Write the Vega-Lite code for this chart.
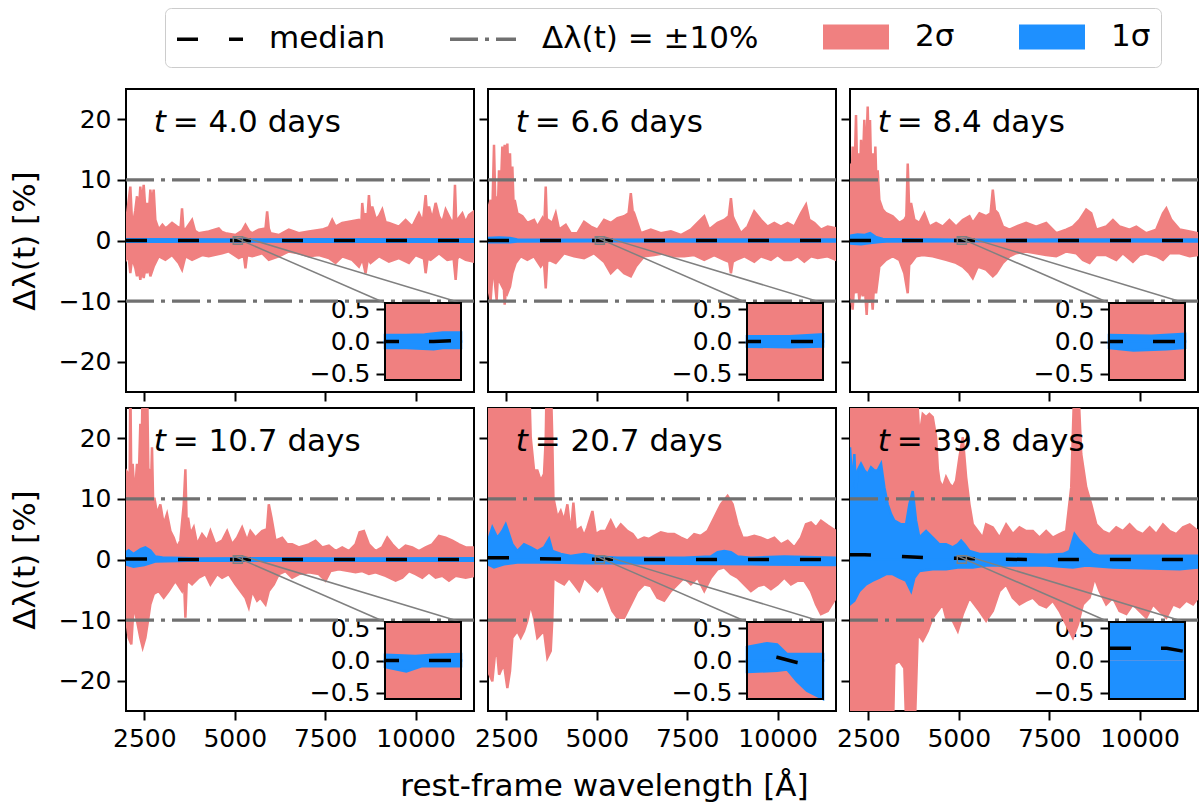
{
  "$schema": "https://vega.github.io/schema/vega-lite/v6.json",
  "padding": {"left": 8, "top": 7, "right": 2, "bottom": 8},
  "title": {"text": "rest-frame wavelength [Å]", "orient": "bottom", "anchor": "middle", "fontSize": 31, "fontWeight": "normal", "color": "black", "offset": 20},
  "datasets": {
    "bands": [
      {"p":1,"b":"u2","w":1993,"v":2.9},{"p":1,"b":"u2","w":2113,"v":8.9},{"p":1,"b":"u2","w":2160,"v":3.0},{"p":1,"b":"u2","w":2205,"v":3.4},{"p":1,"b":"u2","w":2250,"v":5.0},{"p":1,"b":"u2","w":2297,"v":7.3},{"p":1,"b":"u2","w":2340,"v":4.0},{"p":1,"b":"u2","w":2389,"v":8.9},{"p":1,"b":"u2","w":2430,"v":6.0},{"p":1,"b":"u2","w":2482,"v":9.2},{"p":1,"b":"u2","w":2530,"v":5.0},{"p":1,"b":"u2","w":2574,"v":6.2},{"p":1,"b":"u2","w":2620,"v":4.0},{"p":1,"b":"u2","w":2666,"v":8.4},{"p":1,"b":"u2","w":2710,"v":6.0},{"p":1,"b":"u2","w":2758,"v":8.4},{"p":1,"b":"u2","w":2804,"v":3.4},{"p":1,"b":"u2","w":2897,"v":1.8},{"p":1,"b":"u2","w":3000,"v":2.6},{"p":1,"b":"u2","w":3081,"v":2.0},{"p":1,"b":"u2","w":3170,"v":2.4},{"p":1,"b":"u2","w":3266,"v":2.9},{"p":1,"b":"u2","w":3404,"v":2.3},{"p":1,"b":"u2","w":3500,"v":2.0},{"p":1,"b":"u2","w":3542,"v":5.3},{"p":1,"b":"u2","w":3580,"v":2.0},{"p":1,"b":"u2","w":3635,"v":1.8},{"p":1,"b":"u2","w":3819,"v":3.4},{"p":1,"b":"u2","w":3900,"v":1.6},{"p":1,"b":"u2","w":4004,"v":1.2},{"p":1,"b":"u2","w":4280,"v":1.5},{"p":1,"b":"u2","w":4557,"v":2.0},{"p":1,"b":"u2","w":4650,"v":1.4},{"p":1,"b":"u2","w":4742,"v":1.2},{"p":1,"b":"u2","w":5019,"v":0.9},{"p":1,"b":"u2","w":5200,"v":1.6},{"p":1,"b":"u2","w":5295,"v":2.6},{"p":1,"b":"u2","w":5400,"v":1.5},{"p":1,"b":"u2","w":5480,"v":1.2},{"p":1,"b":"u2","w":5664,"v":1.8},{"p":1,"b":"u2","w":5850,"v":2.0},{"p":1,"b":"u2","w":5895,"v":4.8},{"p":1,"b":"u2","w":5940,"v":2.0},{"p":1,"b":"u2","w":5987,"v":1.2},{"p":1,"b":"u2","w":6218,"v":0.9},{"p":1,"b":"u2","w":6494,"v":1.8},{"p":1,"b":"u2","w":6771,"v":1.2},{"p":1,"b":"u2","w":7048,"v":1.5},{"p":1,"b":"u2","w":7417,"v":1.8},{"p":1,"b":"u2","w":7600,"v":2.2},{"p":1,"b":"u2","w":7694,"v":3.4},{"p":1,"b":"u2","w":7786,"v":2.3},{"p":1,"b":"u2","w":7971,"v":2.9},{"p":1,"b":"u2","w":8155,"v":3.1},{"p":1,"b":"u2","w":8432,"v":3.4},{"p":1,"b":"u2","w":8500,"v":2.8},{"p":1,"b":"u2","w":8524,"v":6.2},{"p":1,"b":"u2","w":8570,"v":3.5},{"p":1,"b":"u2","w":8616,"v":4.5},{"p":1,"b":"u2","w":8660,"v":3.0},{"p":1,"b":"u2","w":8709,"v":7.5},{"p":1,"b":"u2","w":8755,"v":4.0},{"p":1,"b":"u2","w":8801,"v":5.6},{"p":1,"b":"u2","w":8900,"v":3.5},{"p":1,"b":"u2","w":8985,"v":4.0},{"p":1,"b":"u2","w":9077,"v":5.1},{"p":1,"b":"u2","w":9170,"v":3.0},{"p":1,"b":"u2","w":9262,"v":2.9},{"p":1,"b":"u2","w":9538,"v":2.3},{"p":1,"b":"u2","w":9723,"v":3.4},{"p":1,"b":"u2","w":9908,"v":2.3},{"p":1,"b":"u2","w":10092,"v":4.5},{"p":1,"b":"u2","w":10200,"v":3.0},{"p":1,"b":"u2","w":10277,"v":7.5},{"p":1,"b":"u2","w":10320,"v":4.0},{"p":1,"b":"u2","w":10369,"v":5.6},{"p":1,"b":"u2","w":10460,"v":3.5},{"p":1,"b":"u2","w":10553,"v":6.2},{"p":1,"b":"u2","w":10646,"v":4.0},{"p":1,"b":"u2","w":10740,"v":3.0},{"p":1,"b":"u2","w":10830,"v":5.1},{"p":1,"b":"u2","w":10969,"v":3.4},{"p":1,"b":"u2","w":11050,"v":3.0},{"p":1,"b":"u2","w":11088,"v":9.2},{"p":1,"b":"u2","w":11120,"v":3.5},{"p":1,"b":"u2","w":11153,"v":3.4},{"p":1,"b":"u2","w":11291,"v":4.5},{"p":1,"b":"u2","w":11384,"v":3.0},{"p":1,"b":"u2","w":11476,"v":4.2},{"p":1,"b":"u2","w":11614,"v":4.8},
      {"p":1,"b":"l2","w":1993,"v":-3.2},{"p":1,"b":"l2","w":2060,"v":-2.5},{"p":1,"b":"l2","w":2113,"v":-5.4},{"p":1,"b":"l2","w":2160,"v":-3.0},{"p":1,"b":"l2","w":2205,"v":-3.7},{"p":1,"b":"l2","w":2250,"v":-4.5},{"p":1,"b":"l2","w":2297,"v":-5.9},{"p":1,"b":"l2","w":2340,"v":-4.5},{"p":1,"b":"l2","w":2389,"v":-6.5},{"p":1,"b":"l2","w":2430,"v":-4.8},{"p":1,"b":"l2","w":2482,"v":-6.2},{"p":1,"b":"l2","w":2530,"v":-4.5},{"p":1,"b":"l2","w":2574,"v":-5.4},{"p":1,"b":"l2","w":2620,"v":-4.0},{"p":1,"b":"l2","w":2666,"v":-5.9},{"p":1,"b":"l2","w":2758,"v":-4.3},{"p":1,"b":"l2","w":2897,"v":-2.6},{"p":1,"b":"l2","w":3081,"v":-3.2},{"p":1,"b":"l2","w":3266,"v":-2.4},{"p":1,"b":"l2","w":3450,"v":-3.7},{"p":1,"b":"l2","w":3542,"v":-4.8},{"p":1,"b":"l2","w":3635,"v":-2.6},{"p":1,"b":"l2","w":3819,"v":-3.2},{"p":1,"b":"l2","w":4096,"v":-2.4},{"p":1,"b":"l2","w":4280,"v":-2.6},{"p":1,"b":"l2","w":4649,"v":-2.1},{"p":1,"b":"l2","w":4834,"v":-1.8},{"p":1,"b":"l2","w":5111,"v":-2.9},{"p":1,"b":"l2","w":5250,"v":-2.5},{"p":1,"b":"l2","w":5295,"v":-4.6},{"p":1,"b":"l2","w":5340,"v":-2.4},{"p":1,"b":"l2","w":5480,"v":-2.6},{"p":1,"b":"l2","w":5756,"v":-2.1},{"p":1,"b":"l2","w":5941,"v":-3.2},{"p":1,"b":"l2","w":6218,"v":-2.6},{"p":1,"b":"l2","w":6494,"v":-1.8},{"p":1,"b":"l2","w":6771,"v":-2.1},{"p":1,"b":"l2","w":7048,"v":-2.6},{"p":1,"b":"l2","w":7325,"v":-2.4},{"p":1,"b":"l2","w":7601,"v":-2.9},{"p":1,"b":"l2","w":7786,"v":-3.7},{"p":1,"b":"l2","w":7971,"v":-2.6},{"p":1,"b":"l2","w":8247,"v":-3.2},{"p":1,"b":"l2","w":8432,"v":-4.3},{"p":1,"b":"l2","w":8530,"v":-3.0},{"p":1,"b":"l2","w":8616,"v":-5.4},{"p":1,"b":"l2","w":8680,"v":-3.0},{"p":1,"b":"l2","w":8755,"v":-3.7},{"p":1,"b":"l2","w":8985,"v":-2.6},{"p":1,"b":"l2","w":9262,"v":-3.5},{"p":1,"b":"l2","w":9538,"v":-2.9},{"p":1,"b":"l2","w":9815,"v":-3.7},{"p":1,"b":"l2","w":10000,"v":-2.4},{"p":1,"b":"l2","w":10230,"v":-3.0},{"p":1,"b":"l2","w":10277,"v":-5.4},{"p":1,"b":"l2","w":10330,"v":-3.0},{"p":1,"b":"l2","w":10415,"v":-3.2},{"p":1,"b":"l2","w":10646,"v":-2.1},{"p":1,"b":"l2","w":10876,"v":-3.2},{"p":1,"b":"l2","w":11050,"v":-3.0},{"p":1,"b":"l2","w":11107,"v":-6.5},{"p":1,"b":"l2","w":11150,"v":-3.0},{"p":1,"b":"l2","w":11199,"v":-2.6},{"p":1,"b":"l2","w":11384,"v":-3.2},{"p":1,"b":"l2","w":11614,"v":-3.5},
      {"p":1,"b":"u1","w":1993,"v":0.2},{"p":1,"b":"u1","w":3000,"v":0.2},{"p":1,"b":"u1","w":5000,"v":0.15},{"p":1,"b":"u1","w":7000,"v":0.2},{"p":1,"b":"u1","w":9000,"v":0.22},{"p":1,"b":"u1","w":11614,"v":0.22},
      {"p":1,"b":"l1","w":1993,"v":-0.2},{"p":1,"b":"l1","w":3000,"v":-0.2},{"p":1,"b":"l1","w":5000,"v":-0.15},{"p":1,"b":"l1","w":7000,"v":-0.2},{"p":1,"b":"l1","w":9000,"v":-0.22},{"p":1,"b":"l1","w":11614,"v":-0.22},

      {"p":2,"b":"u2","w":1993,"v":5.1},{"p":2,"b":"u2","w":2066,"v":6.7},{"p":2,"b":"u2","w":2110,"v":4.0},{"p":2,"b":"u2","w":2159,"v":15.8},{"p":2,"b":"u2","w":2200,"v":5.0},{"p":2,"b":"u2","w":2232,"v":7.3},{"p":2,"b":"u2","w":2265,"v":5.0},{"p":2,"b":"u2","w":2297,"v":11.6},{"p":2,"b":"u2","w":2340,"v":7.0},{"p":2,"b":"u2","w":2389,"v":15.5},{"p":2,"b":"u2","w":2420,"v":9.0},{"p":2,"b":"u2","w":2454,"v":15.8},{"p":2,"b":"u2","w":2490,"v":10.0},{"p":2,"b":"u2","w":2528,"v":16.0},{"p":2,"b":"u2","w":2565,"v":9.0},{"p":2,"b":"u2","w":2601,"v":14.4},{"p":2,"b":"u2","w":2630,"v":8.0},{"p":2,"b":"u2","w":2666,"v":12.2},{"p":2,"b":"u2","w":2700,"v":6.0},{"p":2,"b":"u2","w":2731,"v":6.7},{"p":2,"b":"u2","w":2804,"v":4.5},{"p":2,"b":"u2","w":2943,"v":4.0},{"p":2,"b":"u2","w":3081,"v":2.9},{"p":2,"b":"u2","w":3266,"v":3.4},{"p":2,"b":"u2","w":3358,"v":2.3},{"p":2,"b":"u2","w":3496,"v":3.7},{"p":2,"b":"u2","w":3550,"v":2.5},{"p":2,"b":"u2","w":3589,"v":8.9},{"p":2,"b":"u2","w":3620,"v":3.0},{"p":2,"b":"u2","w":3653,"v":3.4},{"p":2,"b":"u2","w":3773,"v":2.9},{"p":2,"b":"u2","w":3865,"v":4.5},{"p":2,"b":"u2","w":3958,"v":1.8},{"p":2,"b":"u2","w":4142,"v":2.6},{"p":2,"b":"u2","w":4280,"v":1.2},{"p":2,"b":"u2","w":4465,"v":1.2},{"p":2,"b":"u2","w":4649,"v":3.1},{"p":2,"b":"u2","w":4834,"v":2.3},{"p":2,"b":"u2","w":5019,"v":1.8},{"p":2,"b":"u2","w":5203,"v":3.4},{"p":2,"b":"u2","w":5387,"v":2.9},{"p":2,"b":"u2","w":5572,"v":3.7},{"p":2,"b":"u2","w":5756,"v":4.0},{"p":2,"b":"u2","w":5880,"v":4.5},{"p":2,"b":"u2","w":5941,"v":7.8},{"p":2,"b":"u2","w":5990,"v":5.0},{"p":2,"b":"u2","w":6033,"v":4.5},{"p":2,"b":"u2","w":6218,"v":1.2},{"p":2,"b":"u2","w":6494,"v":1.8},{"p":2,"b":"u2","w":6771,"v":1.2},{"p":2,"b":"u2","w":7048,"v":1.5},{"p":2,"b":"u2","w":7325,"v":0.9},{"p":2,"b":"u2","w":7601,"v":1.8},{"p":2,"b":"u2","w":7786,"v":2.9},{"p":2,"b":"u2","w":7971,"v":4.0},{"p":2,"b":"u2","w":8109,"v":1.8},{"p":2,"b":"u2","w":8339,"v":2.9},{"p":2,"b":"u2","w":8524,"v":3.4},{"p":2,"b":"u2","w":8650,"v":4.0},{"p":2,"b":"u2","w":8709,"v":7.0},{"p":2,"b":"u2","w":8760,"v":4.0},{"p":2,"b":"u2","w":8801,"v":3.4},{"p":2,"b":"u2","w":8985,"v":1.2},{"p":2,"b":"u2","w":9170,"v":2.3},{"p":2,"b":"u2","w":9354,"v":4.8},{"p":2,"b":"u2","w":9538,"v":3.4},{"p":2,"b":"u2","w":9723,"v":2.3},{"p":2,"b":"u2","w":9908,"v":2.9},{"p":2,"b":"u2","w":10092,"v":2.3},{"p":2,"b":"u2","w":10277,"v":2.9},{"p":2,"b":"u2","w":10461,"v":2.3},{"p":2,"b":"u2","w":10646,"v":4.5},{"p":2,"b":"u2","w":10784,"v":5.9},{"p":2,"b":"u2","w":10876,"v":3.4},{"p":2,"b":"u2","w":11015,"v":2.9},{"p":2,"b":"u2","w":11199,"v":1.8},{"p":2,"b":"u2","w":11384,"v":2.3},{"p":2,"b":"u2","w":11614,"v":2.0},
      {"p":2,"b":"l2","w":1993,"v":-7.6},{"p":2,"b":"l2","w":2066,"v":-9.8},{"p":2,"b":"l2","w":2110,"v":-6.0},{"p":2,"b":"l2","w":2159,"v":-5.4},{"p":2,"b":"l2","w":2200,"v":-8.0},{"p":2,"b":"l2","w":2232,"v":-9.8},{"p":2,"b":"l2","w":2265,"v":-6.0},{"p":2,"b":"l2","w":2297,"v":-6.5},{"p":2,"b":"l2","w":2389,"v":-7.6},{"p":2,"b":"l2","w":2420,"v":-6.5},{"p":2,"b":"l2","w":2454,"v":-10.6},{"p":2,"b":"l2","w":2490,"v":-8.0},{"p":2,"b":"l2","w":2528,"v":-8.7},{"p":2,"b":"l2","w":2601,"v":-7.6},{"p":2,"b":"l2","w":2666,"v":-5.4},{"p":2,"b":"l2","w":2758,"v":-3.7},{"p":2,"b":"l2","w":2897,"v":-2.6},{"p":2,"b":"l2","w":3081,"v":-3.2},{"p":2,"b":"l2","w":3266,"v":-2.6},{"p":2,"b":"l2","w":3450,"v":-4.3},{"p":2,"b":"l2","w":3540,"v":-3.5},{"p":2,"b":"l2","w":3589,"v":-7.9},{"p":2,"b":"l2","w":3630,"v":-3.5},{"p":2,"b":"l2","w":3681,"v":-3.2},{"p":2,"b":"l2","w":3865,"v":-3.7},{"p":2,"b":"l2","w":4096,"v":-2.1},{"p":2,"b":"l2","w":4373,"v":-2.6},{"p":2,"b":"l2","w":4649,"v":-2.9},{"p":2,"b":"l2","w":4926,"v":-2.1},{"p":2,"b":"l2","w":5203,"v":-3.5},{"p":2,"b":"l2","w":5387,"v":-5.4},{"p":2,"b":"l2","w":5572,"v":-4.3},{"p":2,"b":"l2","w":5756,"v":-5.4},{"p":2,"b":"l2","w":5941,"v":-5.9},{"p":2,"b":"l2","w":6079,"v":-4.3},{"p":2,"b":"l2","w":6310,"v":-2.6},{"p":2,"b":"l2","w":6587,"v":-2.4},{"p":2,"b":"l2","w":6863,"v":-2.1},{"p":2,"b":"l2","w":7140,"v":-2.6},{"p":2,"b":"l2","w":7417,"v":-2.6},{"p":2,"b":"l2","w":7694,"v":-2.4},{"p":2,"b":"l2","w":7971,"v":-3.2},{"p":2,"b":"l2","w":8247,"v":-2.4},{"p":2,"b":"l2","w":8524,"v":-3.2},{"p":2,"b":"l2","w":8660,"v":-3.5},{"p":2,"b":"l2","w":8709,"v":-5.4},{"p":2,"b":"l2","w":8760,"v":-3.5},{"p":2,"b":"l2","w":8847,"v":-3.2},{"p":2,"b":"l2","w":9077,"v":-2.6},{"p":2,"b":"l2","w":9354,"v":-3.5},{"p":2,"b":"l2","w":9538,"v":-2.6},{"p":2,"b":"l2","w":9815,"v":-3.2},{"p":2,"b":"l2","w":10000,"v":-2.4},{"p":2,"b":"l2","w":10184,"v":-3.2},{"p":2,"b":"l2","w":10369,"v":-3.2},{"p":2,"b":"l2","w":10553,"v":-2.6},{"p":2,"b":"l2","w":10738,"v":-3.5},{"p":2,"b":"l2","w":10922,"v":-2.6},{"p":2,"b":"l2","w":11107,"v":-2.9},{"p":2,"b":"l2","w":11384,"v":-2.6},{"p":2,"b":"l2","w":11614,"v":-3.2},
      {"p":2,"b":"u1","w":1993,"v":0.4},{"p":2,"b":"u1","w":2300,"v":0.5},{"p":2,"b":"u1","w":2600,"v":0.4},{"p":2,"b":"u1","w":2800,"v":0.15},{"p":2,"b":"u1","w":5000,"v":0.12},{"p":2,"b":"u1","w":8000,"v":0.15},{"p":2,"b":"u1","w":11614,"v":0.15},
      {"p":2,"b":"l1","w":1993,"v":-0.3},{"p":2,"b":"l1","w":2600,"v":-0.3},{"p":2,"b":"l1","w":2800,"v":-0.15},{"p":2,"b":"l1","w":5000,"v":-0.12},{"p":2,"b":"l1","w":8000,"v":-0.15},{"p":2,"b":"l1","w":11614,"v":-0.15},

      {"p":3,"b":"u2","w":1993,"v":12.7},{"p":3,"b":"u2","w":2030,"v":8.0},{"p":3,"b":"u2","w":2066,"v":15.5},{"p":3,"b":"u2","w":2110,"v":9.0},{"p":3,"b":"u2","w":2159,"v":20.7},{"p":3,"b":"u2","w":2195,"v":10.0},{"p":3,"b":"u2","w":2232,"v":14.4},{"p":3,"b":"u2","w":2265,"v":9.0},{"p":3,"b":"u2","w":2297,"v":16.6},{"p":3,"b":"u2","w":2340,"v":11.0},{"p":3,"b":"u2","w":2389,"v":19.9},{"p":3,"b":"u2","w":2430,"v":12.0},{"p":3,"b":"u2","w":2482,"v":22.1},{"p":3,"b":"u2","w":2515,"v":14.0},{"p":3,"b":"u2","w":2546,"v":19.9},{"p":3,"b":"u2","w":2580,"v":11.0},{"p":3,"b":"u2","w":2620,"v":14.4},{"p":3,"b":"u2","w":2655,"v":9.0},{"p":3,"b":"u2","w":2694,"v":15.5},{"p":3,"b":"u2","w":2730,"v":8.0},{"p":3,"b":"u2","w":2758,"v":11.6},{"p":3,"b":"u2","w":2804,"v":6.7},{"p":3,"b":"u2","w":2897,"v":5.1},{"p":3,"b":"u2","w":2989,"v":4.5},{"p":3,"b":"u2","w":3173,"v":4.0},{"p":3,"b":"u2","w":3358,"v":2.9},{"p":3,"b":"u2","w":3496,"v":3.4},{"p":3,"b":"u2","w":3550,"v":4.0},{"p":3,"b":"u2","w":3589,"v":12.7},{"p":3,"b":"u2","w":3630,"v":5.0},{"p":3,"b":"u2","w":3681,"v":6.2},{"p":3,"b":"u2","w":3773,"v":3.4},{"p":3,"b":"u2","w":3911,"v":2.9},{"p":3,"b":"u2","w":4050,"v":4.5},{"p":3,"b":"u2","w":4188,"v":2.3},{"p":3,"b":"u2","w":4373,"v":2.9},{"p":3,"b":"u2","w":4557,"v":2.3},{"p":3,"b":"u2","w":4742,"v":3.4},{"p":3,"b":"u2","w":4926,"v":2.3},{"p":3,"b":"u2","w":5111,"v":3.4},{"p":3,"b":"u2","w":5295,"v":4.0},{"p":3,"b":"u2","w":5387,"v":2.9},{"p":3,"b":"u2","w":5572,"v":4.5},{"p":3,"b":"u2","w":5756,"v":4.0},{"p":3,"b":"u2","w":5880,"v":4.5},{"p":3,"b":"u2","w":5941,"v":8.4},{"p":3,"b":"u2","w":6000,"v":5.0},{"p":3,"b":"u2","w":6079,"v":4.5},{"p":3,"b":"u2","w":6218,"v":2.3},{"p":3,"b":"u2","w":6402,"v":1.8},{"p":3,"b":"u2","w":6587,"v":2.3},{"p":3,"b":"u2","w":6863,"v":2.9},{"p":3,"b":"u2","w":7140,"v":2.3},{"p":3,"b":"u2","w":7417,"v":2.9},{"p":3,"b":"u2","w":7694,"v":1.2},{"p":3,"b":"u2","w":7971,"v":1.8},{"p":3,"b":"u2","w":8155,"v":2.3},{"p":3,"b":"u2","w":8339,"v":3.4},{"p":3,"b":"u2","w":8524,"v":5.1},{"p":3,"b":"u2","w":8662,"v":4.5},{"p":3,"b":"u2","w":8801,"v":1.8},{"p":3,"b":"u2","w":9077,"v":2.3},{"p":3,"b":"u2","w":9262,"v":3.4},{"p":3,"b":"u2","w":9446,"v":2.3},{"p":3,"b":"u2","w":9723,"v":1.8},{"p":3,"b":"u2","w":9908,"v":2.3},{"p":3,"b":"u2","w":10184,"v":1.2},{"p":3,"b":"u2","w":10461,"v":1.8},{"p":3,"b":"u2","w":10646,"v":4.5},{"p":3,"b":"u2","w":10738,"v":5.3},{"p":3,"b":"u2","w":10876,"v":3.4},{"p":3,"b":"u2","w":11107,"v":1.8},{"p":3,"b":"u2","w":11384,"v":1.5},{"p":3,"b":"u2","w":11614,"v":1.2},
      {"p":3,"b":"l2","w":1993,"v":-7.6},{"p":3,"b":"l2","w":2066,"v":-11.4},{"p":3,"b":"l2","w":2110,"v":-7.0},{"p":3,"b":"l2","w":2159,"v":-8.7},{"p":3,"b":"l2","w":2200,"v":-6.5},{"p":3,"b":"l2","w":2251,"v":-9.8},{"p":3,"b":"l2","w":2300,"v":-7.0},{"p":3,"b":"l2","w":2343,"v":-9.2},{"p":3,"b":"l2","w":2400,"v":-7.5},{"p":3,"b":"l2","w":2454,"v":-12.3},{"p":3,"b":"l2","w":2490,"v":-8.0},{"p":3,"b":"l2","w":2528,"v":-10.3},{"p":3,"b":"l2","w":2575,"v":-8.0},{"p":3,"b":"l2","w":2620,"v":-11.4},{"p":3,"b":"l2","w":2660,"v":-7.0},{"p":3,"b":"l2","w":2712,"v":-8.7},{"p":3,"b":"l2","w":2804,"v":-4.3},{"p":3,"b":"l2","w":2989,"v":-3.2},{"p":3,"b":"l2","w":3173,"v":-2.6},{"p":3,"b":"l2","w":3358,"v":-3.2},{"p":3,"b":"l2","w":3496,"v":-5.4},{"p":3,"b":"l2","w":3589,"v":-8.7},{"p":3,"b":"l2","w":3630,"v":-4.0},{"p":3,"b":"l2","w":3681,"v":-3.7},{"p":3,"b":"l2","w":3819,"v":-2.6},{"p":3,"b":"l2","w":4004,"v":-2.4},{"p":3,"b":"l2","w":4280,"v":-2.6},{"p":3,"b":"l2","w":4649,"v":-3.2},{"p":3,"b":"l2","w":4926,"v":-3.7},{"p":3,"b":"l2","w":5111,"v":-4.3},{"p":3,"b":"l2","w":5295,"v":-5.4},{"p":3,"b":"l2","w":5387,"v":-6.2},{"p":3,"b":"l2","w":5526,"v":-4.3},{"p":3,"b":"l2","w":5756,"v":-4.8},{"p":3,"b":"l2","w":5941,"v":-5.9},{"p":3,"b":"l2","w":6033,"v":-5.4},{"p":3,"b":"l2","w":6218,"v":-3.7},{"p":3,"b":"l2","w":6402,"v":-2.6},{"p":3,"b":"l2","w":6587,"v":-2.1},{"p":3,"b":"l2","w":6863,"v":-1.8},{"p":3,"b":"l2","w":7140,"v":-2.1},{"p":3,"b":"l2","w":7417,"v":-2.4},{"p":3,"b":"l2","w":7694,"v":-2.6},{"p":3,"b":"l2","w":7971,"v":-1.8},{"p":3,"b":"l2","w":8247,"v":-2.1},{"p":3,"b":"l2","w":8432,"v":-3.2},{"p":3,"b":"l2","w":8616,"v":-3.7},{"p":3,"b":"l2","w":8801,"v":-2.4},{"p":3,"b":"l2","w":9077,"v":-2.4},{"p":3,"b":"l2","w":9354,"v":-3.2},{"p":3,"b":"l2","w":9538,"v":-2.1},{"p":3,"b":"l2","w":9815,"v":-3.5},{"p":3,"b":"l2","w":10000,"v":-2.4},{"p":3,"b":"l2","w":10184,"v":-2.1},{"p":3,"b":"l2","w":10461,"v":-2.6},{"p":3,"b":"l2","w":10646,"v":-3.2},{"p":3,"b":"l2","w":10830,"v":-2.1},{"p":3,"b":"l2","w":11107,"v":-2.1},{"p":3,"b":"l2","w":11384,"v":-2.6},{"p":3,"b":"l2","w":11614,"v":-2.4},
      {"p":3,"b":"u1","w":1993,"v":0.8},{"p":3,"b":"u1","w":2200,"v":1.0},{"p":3,"b":"u1","w":2400,"v":0.9},{"p":3,"b":"u1","w":2550,"v":1.2},{"p":3,"b":"u1","w":2700,"v":0.6},{"p":3,"b":"u1","w":2900,"v":0.25},{"p":3,"b":"u1","w":5000,"v":0.12},{"p":3,"b":"u1","w":8000,"v":0.15},{"p":3,"b":"u1","w":11614,"v":0.15},
      {"p":3,"b":"l1","w":1993,"v":-0.5},{"p":3,"b":"l1","w":2300,"v":-0.6},{"p":3,"b":"l1","w":2550,"v":-0.4},{"p":3,"b":"l1","w":2800,"v":-0.25},{"p":3,"b":"l1","w":3000,"v":-0.15},{"p":3,"b":"l1","w":5000,"v":-0.12},{"p":3,"b":"l1","w":11614,"v":-0.15},

      {"p":4,"b":"u2","w":1993,"v":14.7},{"p":4,"b":"u2","w":2066,"v":14.1},{"p":4,"b":"u2","w":2090,"v":10.0},{"p":4,"b":"u2","w":2113,"v":30},{"p":4,"b":"u2","w":2140,"v":12.0},{"p":4,"b":"u2","w":2177,"v":15.8},{"p":4,"b":"u2","w":2232,"v":10.2},{"p":4,"b":"u2","w":2297,"v":15.8},{"p":4,"b":"u2","w":2340,"v":12.0},{"p":4,"b":"u2","w":2389,"v":22.4},{"p":4,"b":"u2","w":2420,"v":15.0},{"p":4,"b":"u2","w":2454,"v":30},{"p":4,"b":"u2","w":2480,"v":18.0},{"p":4,"b":"u2","w":2509,"v":30},{"p":4,"b":"u2","w":2540,"v":20.0},{"p":4,"b":"u2","w":2574,"v":30},{"p":4,"b":"u2","w":2610,"v":15.0},{"p":4,"b":"u2","w":2638,"v":14.7},{"p":4,"b":"u2","w":2675,"v":10.0},{"p":4,"b":"u2","w":2712,"v":18.5},{"p":4,"b":"u2","w":2745,"v":9.0},{"p":4,"b":"u2","w":2777,"v":10.2},{"p":4,"b":"u2","w":2851,"v":7.5},{"p":4,"b":"u2","w":2943,"v":9.1},{"p":4,"b":"u2","w":3035,"v":5.8},{"p":4,"b":"u2","w":3127,"v":7.5},{"p":4,"b":"u2","w":3220,"v":4.7},{"p":4,"b":"u2","w":3312,"v":3.6},{"p":4,"b":"u2","w":3404,"v":2.0},{"p":4,"b":"u2","w":3496,"v":3.1},{"p":4,"b":"u2","w":3589,"v":9.1},{"p":4,"b":"u2","w":3635,"v":14.9},{"p":4,"b":"u2","w":3670,"v":6.0},{"p":4,"b":"u2","w":3708,"v":6.9},{"p":4,"b":"u2","w":3773,"v":4.2},{"p":4,"b":"u2","w":3865,"v":5.3},{"p":4,"b":"u2","w":3958,"v":2.5},{"p":4,"b":"u2","w":4096,"v":4.2},{"p":4,"b":"u2","w":4234,"v":3.1},{"p":4,"b":"u2","w":4327,"v":4.7},{"p":4,"b":"u2","w":4465,"v":2.5},{"p":4,"b":"u2","w":4649,"v":3.1},{"p":4,"b":"u2","w":4788,"v":4.7},{"p":4,"b":"u2","w":4926,"v":2.5},{"p":4,"b":"u2","w":5065,"v":3.6},{"p":4,"b":"u2","w":5203,"v":5.3},{"p":4,"b":"u2","w":5341,"v":3.1},{"p":4,"b":"u2","w":5433,"v":4.7},{"p":4,"b":"u2","w":5572,"v":3.6},{"p":4,"b":"u2","w":5756,"v":4.7},{"p":4,"b":"u2","w":5890,"v":5.0},{"p":4,"b":"u2","w":5941,"v":9.1},{"p":4,"b":"u2","w":6015,"v":6.9},{"p":4,"b":"u2","w":6125,"v":3.1},{"p":4,"b":"u2","w":6310,"v":3.6},{"p":4,"b":"u2","w":6448,"v":2.5},{"p":4,"b":"u2","w":6587,"v":2.5},{"p":4,"b":"u2","w":6771,"v":2.0},{"p":4,"b":"u2","w":7048,"v":2.5},{"p":4,"b":"u2","w":7232,"v":3.1},{"p":4,"b":"u2","w":7417,"v":2.0},{"p":4,"b":"u2","w":7601,"v":2.3},{"p":4,"b":"u2","w":7786,"v":1.4},{"p":4,"b":"u2","w":7971,"v":2.0},{"p":4,"b":"u2","w":8155,"v":1.4},{"p":4,"b":"u2","w":8339,"v":2.5},{"p":4,"b":"u2","w":8450,"v":4.5},{"p":4,"b":"u2","w":8570,"v":4.7},{"p":4,"b":"u2","w":8709,"v":2.5},{"p":4,"b":"u2","w":8893,"v":1.4},{"p":4,"b":"u2","w":9077,"v":2.0},{"p":4,"b":"u2","w":9216,"v":3.6},{"p":4,"b":"u2","w":9354,"v":2.5},{"p":4,"b":"u2","w":9538,"v":1.4},{"p":4,"b":"u2","w":9723,"v":2.3},{"p":4,"b":"u2","w":9908,"v":2.0},{"p":4,"b":"u2","w":10092,"v":1.4},{"p":4,"b":"u2","w":10277,"v":2.0},{"p":4,"b":"u2","w":10461,"v":2.5},{"p":4,"b":"u2","w":10646,"v":3.9},{"p":4,"b":"u2","w":10830,"v":3.6},{"p":4,"b":"u2","w":11015,"v":3.1},{"p":4,"b":"u2","w":11199,"v":2.5},{"p":4,"b":"u2","w":11384,"v":2.0},{"p":4,"b":"u2","w":11614,"v":2.0},
      {"p":4,"b":"l2","w":1993,"v":-9.6},{"p":4,"b":"l2","w":2066,"v":-12.9},{"p":4,"b":"l2","w":2140,"v":-14.0},{"p":4,"b":"l2","w":2205,"v":-7.4},{"p":4,"b":"l2","w":2297,"v":-10.1},{"p":4,"b":"l2","w":2389,"v":-12.9},{"p":4,"b":"l2","w":2454,"v":-14.5},{"p":4,"b":"l2","w":2528,"v":-12.9},{"p":4,"b":"l2","w":2601,"v":-10.1},{"p":4,"b":"l2","w":2666,"v":-7.4},{"p":4,"b":"l2","w":2758,"v":-5.7},{"p":4,"b":"l2","w":2897,"v":-5.2},{"p":4,"b":"l2","w":3035,"v":-6.3},{"p":4,"b":"l2","w":3173,"v":-5.2},{"p":4,"b":"l2","w":3358,"v":-3.5},{"p":4,"b":"l2","w":3542,"v":-5.2},{"p":4,"b":"l2","w":3600,"v":-4.0},{"p":4,"b":"l2","w":3635,"v":-9.6},{"p":4,"b":"l2","w":3670,"v":-4.0},{"p":4,"b":"l2","w":3708,"v":-3.5},{"p":4,"b":"l2","w":3819,"v":-4.1},{"p":4,"b":"l2","w":4004,"v":-3.0},{"p":4,"b":"l2","w":4188,"v":-2.4},{"p":4,"b":"l2","w":4327,"v":-4.1},{"p":4,"b":"l2","w":4511,"v":-2.4},{"p":4,"b":"l2","w":4649,"v":-3.0},{"p":4,"b":"l2","w":4834,"v":-2.4},{"p":4,"b":"l2","w":5019,"v":-4.1},{"p":4,"b":"l2","w":5157,"v":-5.2},{"p":4,"b":"l2","w":5295,"v":-6.3},{"p":4,"b":"l2","w":5387,"v":-7.9},{"p":4,"b":"l2","w":5480,"v":-5.2},{"p":4,"b":"l2","w":5618,"v":-6.8},{"p":4,"b":"l2","w":5710,"v":-6.3},{"p":4,"b":"l2","w":5849,"v":-7.4},{"p":4,"b":"l2","w":5941,"v":-5.2},{"p":4,"b":"l2","w":6079,"v":-4.1},{"p":4,"b":"l2","w":6218,"v":-2.4},{"p":4,"b":"l2","w":6402,"v":-1.9},{"p":4,"b":"l2","w":6587,"v":-3.0},{"p":4,"b":"l2","w":6771,"v":-2.4},{"p":4,"b":"l2","w":7048,"v":-2.1},{"p":4,"b":"l2","w":7325,"v":-2.4},{"p":4,"b":"l2","w":7509,"v":-3.5},{"p":4,"b":"l2","w":7648,"v":-1.9},{"p":4,"b":"l2","w":7878,"v":-1.6},{"p":4,"b":"l2","w":8155,"v":-1.9},{"p":4,"b":"l2","w":8339,"v":-2.1},{"p":4,"b":"l2","w":8524,"v":-1.9},{"p":4,"b":"l2","w":8709,"v":-2.4},{"p":4,"b":"l2","w":8893,"v":-2.1},{"p":4,"b":"l2","w":9170,"v":-2.7},{"p":4,"b":"l2","w":9446,"v":-3.5},{"p":4,"b":"l2","w":9631,"v":-3.0},{"p":4,"b":"l2","w":9815,"v":-1.9},{"p":4,"b":"l2","w":10000,"v":-2.4},{"p":4,"b":"l2","w":10184,"v":-3.0},{"p":4,"b":"l2","w":10369,"v":-2.1},{"p":4,"b":"l2","w":10553,"v":-3.0},{"p":4,"b":"l2","w":10738,"v":-2.7},{"p":4,"b":"l2","w":10922,"v":-3.5},{"p":4,"b":"l2","w":11107,"v":-2.7},{"p":4,"b":"l2","w":11384,"v":-3.0},{"p":4,"b":"l2","w":11614,"v":-2.7},
      {"p":4,"b":"u1","w":1993,"v":1.2},{"p":4,"b":"u1","w":2066,"v":1.5},{"p":4,"b":"u1","w":2200,"v":0.9},{"p":4,"b":"u1","w":2400,"v":1.7},{"p":4,"b":"u1","w":2528,"v":2.0},{"p":4,"b":"u1","w":2666,"v":1.5},{"p":4,"b":"u1","w":2800,"v":0.5},{"p":4,"b":"u1","w":3000,"v":0.35},{"p":4,"b":"u1","w":4000,"v":0.15},{"p":4,"b":"u1","w":6000,"v":0.2},{"p":4,"b":"u1","w":8000,"v":0.15},{"p":4,"b":"u1","w":11614,"v":0.2},
      {"p":4,"b":"l1","w":1993,"v":-0.8},{"p":4,"b":"l1","w":2200,"v":-1.2},{"p":4,"b":"l1","w":2500,"v":-0.9},{"p":4,"b":"l1","w":2800,"v":-0.35},{"p":4,"b":"l1","w":4000,"v":-0.15},{"p":4,"b":"l1","w":6000,"v":-0.2},{"p":4,"b":"l1","w":11614,"v":-0.2},

      {"p":5,"b":"u2","w":1993,"v":30},{"p":5,"b":"u2","w":3127,"v":30},{"p":5,"b":"u2","w":3173,"v":20.2},{"p":5,"b":"u2","w":3266,"v":14.7},{"p":5,"b":"u2","w":3358,"v":14.7},{"p":5,"b":"u2","w":3450,"v":13.0},{"p":5,"b":"u2","w":3542,"v":14.1},{"p":5,"b":"u2","w":3590,"v":20.0},{"p":5,"b":"u2","w":3616,"v":30},{"p":5,"b":"u2","w":3727,"v":30},{"p":5,"b":"u2","w":3770,"v":20.0},{"p":5,"b":"u2","w":3801,"v":10.2},{"p":5,"b":"u2","w":3911,"v":6.9},{"p":5,"b":"u2","w":4004,"v":8.0},{"p":5,"b":"u2","w":4096,"v":6.4},{"p":5,"b":"u2","w":4188,"v":9.1},{"p":5,"b":"u2","w":4280,"v":4.2},{"p":5,"b":"u2","w":4354,"v":9.4},{"p":5,"b":"u2","w":4419,"v":4.7},{"p":5,"b":"u2","w":4557,"v":5.3},{"p":5,"b":"u2","w":4649,"v":3.9},{"p":5,"b":"u2","w":4742,"v":5.3},{"p":5,"b":"u2","w":4880,"v":8.0},{"p":5,"b":"u2","w":4972,"v":4.2},{"p":5,"b":"u2","w":5111,"v":4.7},{"p":5,"b":"u2","w":5249,"v":4.7},{"p":5,"b":"u2","w":5387,"v":6.4},{"p":5,"b":"u2","w":5526,"v":4.7},{"p":5,"b":"u2","w":5664,"v":5.8},{"p":5,"b":"u2","w":5849,"v":4.7},{"p":5,"b":"u2","w":5987,"v":4.2},{"p":5,"b":"u2","w":6125,"v":3.1},{"p":5,"b":"u2","w":6310,"v":3.6},{"p":5,"b":"u2","w":6448,"v":3.4},{"p":5,"b":"u2","w":6587,"v":3.9},{"p":5,"b":"u2","w":6771,"v":4.5},{"p":5,"b":"u2","w":6956,"v":4.2},{"p":5,"b":"u2","w":7140,"v":4.2},{"p":5,"b":"u2","w":7325,"v":3.6},{"p":5,"b":"u2","w":7509,"v":3.1},{"p":5,"b":"u2","w":7694,"v":4.2},{"p":5,"b":"u2","w":7878,"v":3.9},{"p":5,"b":"u2","w":8063,"v":4.7},{"p":5,"b":"u2","w":8247,"v":6.9},{"p":5,"b":"u2","w":8432,"v":9.1},{"p":5,"b":"u2","w":8616,"v":10.5},{"p":5,"b":"u2","w":8755,"v":9.1},{"p":5,"b":"u2","w":8893,"v":5.8},{"p":5,"b":"u2","w":9031,"v":3.6},{"p":5,"b":"u2","w":9170,"v":3.6},{"p":5,"b":"u2","w":9354,"v":3.9},{"p":5,"b":"u2","w":9538,"v":3.6},{"p":5,"b":"u2","w":9723,"v":3.1},{"p":5,"b":"u2","w":9908,"v":3.6},{"p":5,"b":"u2","w":10092,"v":2.5},{"p":5,"b":"u2","w":10277,"v":3.1},{"p":5,"b":"u2","w":10461,"v":2.0},{"p":5,"b":"u2","w":10646,"v":3.6},{"p":5,"b":"u2","w":10784,"v":5.8},{"p":5,"b":"u2","w":10922,"v":6.1},{"p":5,"b":"u2","w":11061,"v":5.3},{"p":5,"b":"u2","w":11199,"v":6.4},{"p":5,"b":"u2","w":11384,"v":5.6},{"p":5,"b":"u2","w":11614,"v":4.7},
      {"p":5,"b":"l2","w":1993,"v":-18.4},{"p":5,"b":"l2","w":2113,"v":-20.1},{"p":5,"b":"l2","w":2180,"v":-16.0},{"p":5,"b":"l2","w":2251,"v":-15.6},{"p":5,"b":"l2","w":2300,"v":-19.0},{"p":5,"b":"l2","w":2343,"v":-18.4},{"p":5,"b":"l2","w":2435,"v":-17.3},{"p":5,"b":"l2","w":2528,"v":-21.2},{"p":5,"b":"l2","w":2601,"v":-18.4},{"p":5,"b":"l2","w":2666,"v":-12.9},{"p":5,"b":"l2","w":2804,"v":-11.8},{"p":5,"b":"l2","w":2897,"v":-12.9},{"p":5,"b":"l2","w":2989,"v":-11.8},{"p":5,"b":"l2","w":3081,"v":-10.1},{"p":5,"b":"l2","w":3173,"v":-7.4},{"p":5,"b":"l2","w":3266,"v":-9.6},{"p":5,"b":"l2","w":3358,"v":-12.9},{"p":5,"b":"l2","w":3450,"v":-12.3},{"p":5,"b":"l2","w":3542,"v":-11.8},{"p":5,"b":"l2","w":3635,"v":-16.2},{"p":5,"b":"l2","w":3727,"v":-15.1},{"p":5,"b":"l2","w":3770,"v":-10.0},{"p":5,"b":"l2","w":3801,"v":-3.0},{"p":5,"b":"l2","w":3911,"v":-3.5},{"p":5,"b":"l2","w":4096,"v":-4.1},{"p":5,"b":"l2","w":4234,"v":-3.0},{"p":5,"b":"l2","w":4373,"v":-4.1},{"p":5,"b":"l2","w":4511,"v":-5.2},{"p":5,"b":"l2","w":4649,"v":-3.0},{"p":5,"b":"l2","w":4834,"v":-4.1},{"p":5,"b":"l2","w":5019,"v":-5.2},{"p":5,"b":"l2","w":5157,"v":-4.1},{"p":5,"b":"l2","w":5295,"v":-6.3},{"p":5,"b":"l2","w":5433,"v":-8.5},{"p":5,"b":"l2","w":5572,"v":-9.6},{"p":5,"b":"l2","w":5756,"v":-9.6},{"p":5,"b":"l2","w":5941,"v":-7.4},{"p":5,"b":"l2","w":6125,"v":-5.2},{"p":5,"b":"l2","w":6310,"v":-4.1},{"p":5,"b":"l2","w":6494,"v":-4.4},{"p":5,"b":"l2","w":6679,"v":-6.3},{"p":5,"b":"l2","w":6863,"v":-6.8},{"p":5,"b":"l2","w":7048,"v":-5.2},{"p":5,"b":"l2","w":7232,"v":-4.1},{"p":5,"b":"l2","w":7417,"v":-3.0},{"p":5,"b":"l2","w":7601,"v":-4.1},{"p":5,"b":"l2","w":7786,"v":-3.0},{"p":5,"b":"l2","w":7971,"v":-5.2},{"p":5,"b":"l2","w":8155,"v":-3.0},{"p":5,"b":"l2","w":8339,"v":-1.6},{"p":5,"b":"l2","w":8524,"v":-1.3},{"p":5,"b":"l2","w":8709,"v":-2.4},{"p":5,"b":"l2","w":8893,"v":-3.0},{"p":5,"b":"l2","w":9077,"v":-4.1},{"p":5,"b":"l2","w":9262,"v":-5.2},{"p":5,"b":"l2","w":9446,"v":-4.4},{"p":5,"b":"l2","w":9631,"v":-4.1},{"p":5,"b":"l2","w":9815,"v":-4.9},{"p":5,"b":"l2","w":10000,"v":-4.1},{"p":5,"b":"l2","w":10184,"v":-3.0},{"p":5,"b":"l2","w":10369,"v":-4.1},{"p":5,"b":"l2","w":10553,"v":-3.5},{"p":5,"b":"l2","w":10738,"v":-3.5},{"p":5,"b":"l2","w":10922,"v":-5.2},{"p":5,"b":"l2","w":11061,"v":-7.4},{"p":5,"b":"l2","w":11199,"v":-9.0},{"p":5,"b":"l2","w":11384,"v":-8.5},{"p":5,"b":"l2","w":11614,"v":-6.3},
      {"p":5,"b":"u1","w":1993,"v":3.1},{"p":5,"b":"u1","w":2113,"v":5.3},{"p":5,"b":"u1","w":2251,"v":3.6},{"p":5,"b":"u1","w":2389,"v":4.7},{"p":5,"b":"u1","w":2482,"v":5.8},{"p":5,"b":"u1","w":2574,"v":4.2},{"p":5,"b":"u1","w":2666,"v":2.5},{"p":5,"b":"u1","w":2804,"v":1.4},{"p":5,"b":"u1","w":2989,"v":2.5},{"p":5,"b":"u1","w":3173,"v":2.0},{"p":5,"b":"u1","w":3358,"v":1.4},{"p":5,"b":"u1","w":3542,"v":2.0},{"p":5,"b":"u1","w":3681,"v":3.4},{"p":5,"b":"u1","w":3773,"v":1.4},{"p":5,"b":"u1","w":4004,"v":0.9},{"p":5,"b":"u1","w":4280,"v":0.6},{"p":5,"b":"u1","w":4649,"v":0.9},{"p":5,"b":"u1","w":5019,"v":0.5},{"p":5,"b":"u1","w":5572,"v":0.3},{"p":5,"b":"u1","w":6494,"v":0.3},{"p":5,"b":"u1","w":7417,"v":0.3},{"p":5,"b":"u1","w":8155,"v":0.5},{"p":5,"b":"u1","w":8339,"v":1.2},{"p":5,"b":"u1","w":8524,"v":1.4},{"p":5,"b":"u1","w":8709,"v":1.2},{"p":5,"b":"u1","w":8893,"v":0.5},{"p":5,"b":"u1","w":9262,"v":0.3},{"p":5,"b":"u1","w":10184,"v":0.5},{"p":5,"b":"u1","w":11614,"v":0.3},
      {"p":5,"b":"l1","w":1993,"v":-0.8},{"p":5,"b":"l1","w":2159,"v":-1.3},{"p":5,"b":"l1","w":2435,"v":-0.8},{"p":5,"b":"l1","w":2804,"v":-0.5},{"p":5,"b":"l1","w":3727,"v":-0.5},{"p":5,"b":"l1","w":4649,"v":-0.6},{"p":5,"b":"l1","w":5572,"v":-0.6},{"p":5,"b":"l1","w":7417,"v":-0.7},{"p":5,"b":"l1","w":9262,"v":-0.8},{"p":5,"b":"l1","w":11614,"v":-0.9},

      {"p":6,"b":"u2","w":1993,"v":30},{"p":6,"b":"u2","w":3819,"v":30},{"p":6,"b":"u2","w":3911,"v":20.2},{"p":6,"b":"u2","w":4004,"v":24.0},{"p":6,"b":"u2","w":4096,"v":23.5},{"p":6,"b":"u2","w":4188,"v":24.0},{"p":6,"b":"u2","w":4280,"v":23.5},{"p":6,"b":"u2","w":4373,"v":20.2},{"p":6,"b":"u2","w":4420,"v":15.0},{"p":6,"b":"u2","w":4465,"v":13.0},{"p":6,"b":"u2","w":4557,"v":11.9},{"p":6,"b":"u2","w":4649,"v":13.6},{"p":6,"b":"u2","w":4742,"v":12.5},{"p":6,"b":"u2","w":4834,"v":11.9},{"p":6,"b":"u2","w":4926,"v":13.0},{"p":6,"b":"u2","w":5019,"v":16.9},{"p":6,"b":"u2","w":5111,"v":20.2},{"p":6,"b":"u2","w":5203,"v":13.6},{"p":6,"b":"u2","w":5295,"v":9.1},{"p":6,"b":"u2","w":5387,"v":5.8},{"p":6,"b":"u2","w":5526,"v":4.7},{"p":6,"b":"u2","w":5664,"v":3.6},{"p":6,"b":"u2","w":5756,"v":5.8},{"p":6,"b":"u2","w":5941,"v":5.3},{"p":6,"b":"u2","w":6125,"v":3.6},{"p":6,"b":"u2","w":6310,"v":5.8},{"p":6,"b":"u2","w":6494,"v":4.2},{"p":6,"b":"u2","w":6679,"v":5.3},{"p":6,"b":"u2","w":6863,"v":4.7},{"p":6,"b":"u2","w":7048,"v":4.7},{"p":6,"b":"u2","w":7232,"v":3.6},{"p":6,"b":"u2","w":7417,"v":4.7},{"p":6,"b":"u2","w":7601,"v":3.6},{"p":6,"b":"u2","w":7786,"v":4.2},{"p":6,"b":"u2","w":7971,"v":4.7},{"p":6,"b":"u2","w":8109,"v":11.9},{"p":6,"b":"u2","w":8201,"v":30},{"p":6,"b":"u2","w":8293,"v":30},{"p":6,"b":"u2","w":8386,"v":17.4},{"p":6,"b":"u2","w":8524,"v":11.9},{"p":6,"b":"u2","w":8662,"v":9.1},{"p":6,"b":"u2","w":8801,"v":5.8},{"p":6,"b":"u2","w":8985,"v":4.7},{"p":6,"b":"u2","w":9170,"v":4.2},{"p":6,"b":"u2","w":9354,"v":5.3},{"p":6,"b":"u2","w":9538,"v":4.7},{"p":6,"b":"u2","w":9723,"v":5.8},{"p":6,"b":"u2","w":9908,"v":4.7},{"p":6,"b":"u2","w":10092,"v":4.2},{"p":6,"b":"u2","w":10277,"v":5.3},{"p":6,"b":"u2","w":10461,"v":4.2},{"p":6,"b":"u2","w":10646,"v":5.8},{"p":6,"b":"u2","w":10830,"v":4.7},{"p":6,"b":"u2","w":11015,"v":4.2},{"p":6,"b":"u2","w":11199,"v":5.3},{"p":6,"b":"u2","w":11384,"v":5.8},{"p":6,"b":"u2","w":11614,"v":4.7},
      {"p":6,"b":"l2","w":1993,"v":-30},{"p":6,"b":"l2","w":3173,"v":-30},{"p":6,"b":"l2","w":3220,"v":-17.3},{"p":6,"b":"l2","w":3358,"v":-16.7},{"p":6,"b":"l2","w":3496,"v":-17.9},{"p":6,"b":"l2","w":3560,"v":-30},{"p":6,"b":"l2","w":3773,"v":-30},{"p":6,"b":"l2","w":3865,"v":-12.3},{"p":6,"b":"l2","w":4004,"v":-13.4},{"p":6,"b":"l2","w":4142,"v":-11.8},{"p":6,"b":"l2","w":4280,"v":-9.6},{"p":6,"b":"l2","w":4419,"v":-8.5},{"p":6,"b":"l2","w":4557,"v":-7.4},{"p":6,"b":"l2","w":4649,"v":-9.6},{"p":6,"b":"l2","w":4834,"v":-10.1},{"p":6,"b":"l2","w":4972,"v":-11.8},{"p":6,"b":"l2","w":5111,"v":-9.0},{"p":6,"b":"l2","w":5295,"v":-6.3},{"p":6,"b":"l2","w":5572,"v":-8.5},{"p":6,"b":"l2","w":5756,"v":-10.1},{"p":6,"b":"l2","w":5941,"v":-8.5},{"p":6,"b":"l2","w":6125,"v":-5.2},{"p":6,"b":"l2","w":6310,"v":-4.1},{"p":6,"b":"l2","w":6494,"v":-6.3},{"p":6,"b":"l2","w":6679,"v":-7.4},{"p":6,"b":"l2","w":6863,"v":-6.8},{"p":6,"b":"l2","w":7048,"v":-6.3},{"p":6,"b":"l2","w":7232,"v":-7.4},{"p":6,"b":"l2","w":7417,"v":-7.9},{"p":6,"b":"l2","w":7601,"v":-6.8},{"p":6,"b":"l2","w":7786,"v":-8.5},{"p":6,"b":"l2","w":7971,"v":-10.7},{"p":6,"b":"l2","w":8155,"v":-12.9},{"p":6,"b":"l2","w":8293,"v":-10.7},{"p":6,"b":"l2","w":8432,"v":-7.4},{"p":6,"b":"l2","w":8616,"v":-6.3},{"p":6,"b":"l2","w":8755,"v":-3.0},{"p":6,"b":"l2","w":8893,"v":-5.2},{"p":6,"b":"l2","w":9077,"v":-7.4},{"p":6,"b":"l2","w":9262,"v":-6.3},{"p":6,"b":"l2","w":9446,"v":-8.5},{"p":6,"b":"l2","w":9631,"v":-9.0},{"p":6,"b":"l2","w":9815,"v":-7.4},{"p":6,"b":"l2","w":10000,"v":-8.5},{"p":6,"b":"l2","w":10184,"v":-9.6},{"p":6,"b":"l2","w":10369,"v":-7.4},{"p":6,"b":"l2","w":10553,"v":-8.5},{"p":6,"b":"l2","w":10738,"v":-9.6},{"p":6,"b":"l2","w":10922,"v":-7.4},{"p":6,"b":"l2","w":11107,"v":-7.9},{"p":6,"b":"l2","w":11291,"v":-6.8},{"p":6,"b":"l2","w":11476,"v":-7.4},{"p":6,"b":"l2","w":11614,"v":-6.3},
      {"p":6,"b":"u1","w":1993,"v":18.5},{"p":6,"b":"u1","w":2060,"v":12.0},{"p":6,"b":"u1","w":2113,"v":17.4},{"p":6,"b":"u1","w":2160,"v":11.0},{"p":6,"b":"u1","w":2205,"v":14.7},{"p":6,"b":"u1","w":2297,"v":15.8},{"p":6,"b":"u1","w":2389,"v":14.7},{"p":6,"b":"u1","w":2482,"v":14.1},{"p":6,"b":"u1","w":2574,"v":15.2},{"p":6,"b":"u1","w":2666,"v":14.7},{"p":6,"b":"u1","w":2758,"v":14.7},{"p":6,"b":"u1","w":2851,"v":15.8},{"p":6,"b":"u1","w":2943,"v":11.9},{"p":6,"b":"u1","w":3035,"v":9.1},{"p":6,"b":"u1","w":3127,"v":7.5},{"p":6,"b":"u1","w":3220,"v":6.4},{"p":6,"b":"u1","w":3404,"v":5.8},{"p":6,"b":"u1","w":3542,"v":5.8},{"p":6,"b":"u1","w":3635,"v":9.1},{"p":6,"b":"u1","w":3727,"v":11.3},{"p":6,"b":"u1","w":3819,"v":6.4},{"p":6,"b":"u1","w":3911,"v":3.6},{"p":6,"b":"u1","w":4004,"v":4.2},{"p":6,"b":"u1","w":4096,"v":4.7},{"p":6,"b":"u1","w":4280,"v":3.6},{"p":6,"b":"u1","w":4465,"v":2.5},{"p":6,"b":"u1","w":4649,"v":2.5},{"p":6,"b":"u1","w":4834,"v":2.0},{"p":6,"b":"u1","w":4972,"v":2.5},{"p":6,"b":"u1","w":5065,"v":3.1},{"p":6,"b":"u1","w":5157,"v":2.5},{"p":6,"b":"u1","w":5295,"v":1.4},{"p":6,"b":"u1","w":5572,"v":0.9},{"p":6,"b":"u1","w":6494,"v":0.9},{"p":6,"b":"u1","w":7417,"v":0.8},{"p":6,"b":"u1","w":7878,"v":0.9},{"p":6,"b":"u1","w":8063,"v":1.4},{"p":6,"b":"u1","w":8201,"v":4.2},{"p":6,"b":"u1","w":8339,"v":3.1},{"p":6,"b":"u1","w":8524,"v":2.0},{"p":6,"b":"u1","w":8709,"v":0.9},{"p":6,"b":"u1","w":8893,"v":0.6},{"p":6,"b":"u1","w":10184,"v":0.6},{"p":6,"b":"u1","w":11614,"v":0.6},
      {"p":6,"b":"l1","w":1993,"v":-7.4},{"p":6,"b":"l1","w":2113,"v":-6.8},{"p":6,"b":"l1","w":2251,"v":-5.2},{"p":6,"b":"l1","w":2435,"v":-4.1},{"p":6,"b":"l1","w":2620,"v":-3.5},{"p":6,"b":"l1","w":2804,"v":-3.0},{"p":6,"b":"l1","w":2989,"v":-2.4},{"p":6,"b":"l1","w":3173,"v":-2.4},{"p":6,"b":"l1","w":3358,"v":-3.0},{"p":6,"b":"l1","w":3542,"v":-3.5},{"p":6,"b":"l1","w":3681,"v":-5.2},{"p":6,"b":"l1","w":3773,"v":-3.0},{"p":6,"b":"l1","w":3911,"v":-1.9},{"p":6,"b":"l1","w":4280,"v":-1.6},{"p":6,"b":"l1","w":4649,"v":-1.6},{"p":6,"b":"l1","w":5019,"v":-1.3},{"p":6,"b":"l1","w":5387,"v":-1.3},{"p":6,"b":"l1","w":5756,"v":-1.0},{"p":6,"b":"l1","w":7417,"v":-1.0},{"p":6,"b":"l1","w":8155,"v":-1.3},{"p":6,"b":"l1","w":8524,"v":-1.0},{"p":6,"b":"l1","w":9262,"v":-1.3},{"p":6,"b":"l1","w":11107,"v":-1.6},{"p":6,"b":"l1","w":11614,"v":-1.3}
    ],
    "med": [
      {"p":1,"w":1993,"v":0},{"p":1,"w":11614,"v":0},
      {"p":2,"w":1993,"v":0},{"p":2,"w":11614,"v":0},
      {"p":3,"w":1993,"v":0},{"p":3,"w":11614,"v":0},
      {"p":4,"w":1993,"v":0.1},{"p":4,"w":2800,"v":0.05},{"p":4,"w":3500,"v":0},{"p":4,"w":11614,"v":0},
      {"p":5,"w":1993,"v":0.3},{"p":5,"w":2600,"v":0.3},{"p":5,"w":3300,"v":0.15},{"p":5,"w":3900,"v":0.1},{"p":5,"w":5000,"v":0.05},{"p":5,"w":6000,"v":0},{"p":5,"w":11614,"v":0},
      {"p":6,"w":1993,"v":0.8},{"p":6,"w":2400,"v":0.8},{"p":6,"w":2700,"v":0.7},{"p":6,"w":3300,"v":0.55},{"p":6,"w":4200,"v":0.25},{"p":6,"w":4960,"v":0.19},{"p":6,"w":5210,"v":0.15},{"p":6,"w":6000,"v":0.05},{"p":6,"w":7000,"v":0},{"p":6,"w":11614,"v":0}
    ],
    "ins": [
      {"p":1,"b":"u2","w":4960,"v":1},{"p":1,"b":"u2","w":5210,"v":1},{"p":1,"b":"l2","w":4960,"v":-1},{"p":1,"b":"l2","w":5210,"v":-1},
      {"p":1,"b":"u1","w":4960,"v":0.1},{"p":1,"b":"u1","w":5030,"v":0.1},{"p":1,"b":"u1","w":5090,"v":0.11},{"p":1,"b":"u1","w":5150,"v":0.14},{"p":1,"b":"u1","w":5210,"v":0.14},
      {"p":1,"b":"l1","w":4960,"v":-0.1},{"p":1,"b":"l1","w":5030,"v":-0.1},{"p":1,"b":"l1","w":5120,"v":-0.12},{"p":1,"b":"l1","w":5150,"v":-0.1},{"p":1,"b":"l1","w":5210,"v":-0.1},
      {"p":1,"b":"m","w":4960,"v":0},{"p":1,"b":"m","w":5120,"v":0},{"p":1,"b":"m","w":5210,"v":0.02},
      {"p":2,"b":"u2","w":4960,"v":1},{"p":2,"b":"u2","w":5210,"v":1},{"p":2,"b":"l2","w":4960,"v":-1},{"p":2,"b":"l2","w":5210,"v":-1},
      {"p":2,"b":"u1","w":4960,"v":0.08},{"p":2,"b":"u1","w":5100,"v":0.08},{"p":2,"b":"u1","w":5210,"v":0.11},
      {"p":2,"b":"l1","w":4960,"v":-0.08},{"p":2,"b":"l1","w":5100,"v":-0.09},{"p":2,"b":"l1","w":5210,"v":-0.08},
      {"p":2,"b":"m","w":4960,"v":0},{"p":2,"b":"m","w":5210,"v":0},
      {"p":3,"b":"u2","w":4960,"v":1},{"p":3,"b":"u2","w":5210,"v":1},{"p":3,"b":"l2","w":4960,"v":-1},{"p":3,"b":"l2","w":5210,"v":-1},
      {"p":3,"b":"u1","w":4960,"v":0.1},{"p":3,"b":"u1","w":5100,"v":0.09},{"p":3,"b":"u1","w":5210,"v":0.12},
      {"p":3,"b":"l1","w":4960,"v":-0.1},{"p":3,"b":"l1","w":5040,"v":-0.14},{"p":3,"b":"l1","w":5150,"v":-0.12},{"p":3,"b":"l1","w":5210,"v":-0.1},
      {"p":3,"b":"m","w":4960,"v":0},{"p":3,"b":"m","w":5210,"v":0},
      {"p":4,"b":"u2","w":4960,"v":1},{"p":4,"b":"u2","w":5210,"v":1},{"p":4,"b":"l2","w":4960,"v":-1},{"p":4,"b":"l2","w":5210,"v":-1},
      {"p":4,"b":"u1","w":4960,"v":0.09},{"p":4,"b":"u1","w":5060,"v":0.07},{"p":4,"b":"u1","w":5120,"v":0.09},{"p":4,"b":"u1","w":5210,"v":0.1},
      {"p":4,"b":"l1","w":4960,"v":-0.1},{"p":4,"b":"l1","w":5030,"v":-0.17},{"p":4,"b":"l1","w":5080,"v":-0.09},{"p":4,"b":"l1","w":5210,"v":-0.09},
      {"p":4,"b":"m","w":4960,"v":0},{"p":4,"b":"m","w":5210,"v":0},
      {"p":5,"b":"u2","w":4960,"v":1},{"p":5,"b":"u2","w":5210,"v":1},{"p":5,"b":"l2","w":4960,"v":-1},{"p":5,"b":"l2","w":5210,"v":-1},
      {"p":5,"b":"u1","w":4960,"v":0.21},{"p":5,"b":"u1","w":5026,"v":0.27},{"p":5,"b":"u1","w":5059,"v":0.25},{"p":5,"b":"u1","w":5092,"v":0.1},{"p":5,"b":"u1","w":5210,"v":0.1},
      {"p":5,"b":"l1","w":4960,"v":-0.18},{"p":5,"b":"l1","w":5059,"v":-0.16},{"p":5,"b":"l1","w":5092,"v":-0.14},{"p":5,"b":"l1","w":5124,"v":-0.32},{"p":5,"b":"l1","w":5157,"v":-0.47},{"p":5,"b":"l1","w":5210,"v":-0.6},
      {"p":5,"b":"m","w":4960,"v":0.15},{"p":5,"b":"m","w":5059,"v":0.05},{"p":5,"b":"m","w":5124,"v":-0.03},{"p":5,"b":"m","w":5210,"v":-0.1},
      {"p":6,"b":"u2","w":4960,"v":1},{"p":6,"b":"u2","w":5210,"v":1},{"p":6,"b":"l2","w":4960,"v":-1},{"p":6,"b":"l2","w":5210,"v":-1},
      {"p":6,"b":"u1","w":4960,"v":1},{"p":6,"b":"u1","w":5210,"v":1},{"p":6,"b":"l1","w":4960,"v":-1},{"p":6,"b":"l1","w":5210,"v":-1},
      {"p":6,"b":"m","w":4960,"v":0.19},{"p":6,"b":"m","w":5150,"v":0.19},{"p":6,"b":"m","w":5210,"v":0.14}
    ],
    "links": [
      {"x0": 4960, "y0": 0.6, "x1": 9154, "y1": -10.31},
      {"x0": 5210, "y0": 0.6, "x1": 11255, "y1": -10.31}
    ],
    "labs": [
      {"p":1,"s":"= 4.0 days"},{"p":2,"s":"= 6.6 days"},{"p":3,"s":"= 8.4 days"},
      {"p":4,"s":"= 10.7 days"},{"p":5,"s":"= 20.7 days"},{"p":6,"s":"= 39.8 days"}
    ]
  },
  "concat": [
    {
      "width": 348, "height": 303,
      "layer": [
        {
          "layer": [
            {"data": {"name": "bands"}, "transform": [{"filter": "datum.p == 1 && (datum.b == 'u2' || datum.b == 'l2')"}], "mark": {"type": "area", "color": "#f08080", "stroke": "#f08080", "strokeWidth": 2.5, "clip": true},
             "encoding": {"x": {"field": "w", "type": "quantitative", "scale": {"domain": [1993, 11614], "nice": false, "zero": false}, "axis": {"values": [2500, 5000, 7500, 10000], "labels": false, "format": "d", "title": null}},
                          "y": {"field": "v", "type": "quantitative", "stack": null, "scale": {"domain": [-25, 25], "nice": false, "zero": false}, "axis": {"values": [-20, -10, 0, 10, 20], "format": "d", "title": "Δλ(t)  [%]"}},
                          "y2": {"datum": 0}, "detail": {"field": "b"}}},
            {"data": {"name": "bands"}, "transform": [{"filter": "datum.p == 1 && (datum.b == 'u1' || datum.b == 'l1')"}], "mark": {"type": "area", "color": "#1e90ff", "stroke": "#1e90ff", "strokeWidth": 2.5, "clip": true},
             "encoding": {"x": {"field": "w", "type": "quantitative"}, "y": {"field": "v", "type": "quantitative", "stack": null}, "y2": {"datum": 0}, "detail": {"field": "b"}}},
            {"data": {"name": "med"}, "transform": [{"filter": "datum.p == 1"}], "mark": {"type": "line", "color": "black", "strokeWidth": 3.5, "strokeDash": [21, 31], "clip": true},
             "encoding": {"x": {"field": "w", "type": "quantitative"}, "y": {"field": "v", "type": "quantitative"}}},
            {"data": {"values": [{"lim": 10}, {"lim": -10}]}, "mark": {"type": "rule", "color": "#707070", "strokeWidth": 3.3, "strokeDash": [28, 7, 4, 7]},
             "encoding": {"x": {"datum": 1993}, "x2": {"datum": 11614}, "y": {"field": "lim", "type": "quantitative"}}},
            {"data": {"values": [{}]}, "mark": {"type": "rect", "fillOpacity": 0, "stroke": "#808080", "strokeWidth": 1.5},
             "encoding": {"x": {"datum": 4960}, "x2": {"datum": 5210}, "y": {"datum": -0.6}, "y2": {"datum": 0.6}}},
            {"data": {"name": "links"}, "mark": {"type": "rule", "color": "#808080", "strokeWidth": 1.5},
             "encoding": {"x": {"field": "x0", "type": "quantitative"}, "x2": {"field": "x1"}, "y": {"field": "y0", "type": "quantitative"}, "y2": {"field": "y1"}}},
            {"data": {"values": [{}]}, "mark": {"type": "text", "text": "t", "fontStyle": "italic", "fontSize": 31, "align": "left", "baseline": "alphabetic", "color": "black"},
             "encoding": {"x": {"datum": 2759}, "y": {"datum": 17.95}}},
            {"data": {"name": "labs"}, "transform": [{"filter": "datum.p == 1"}], "mark": {"type": "text", "fontSize": 31, "align": "left", "baseline": "alphabetic", "dx": 19, "color": "black"},
             "encoding": {"x": {"datum": 2759}, "y": {"datum": 17.95}, "text": {"field": "s"}}},
            {
              "data": {"values": [{"key": "median"}, {"key": "Δλ(t) = ±10%"}, {"key": "2σ"}, {"key": "1σ"}]},
              "mark": {"type": "point", "opacity": 0},
              "encoding": {
                "fill": {"field": "key", "type": "nominal", "scale": {"domain": ["median", "Δλ(t) = ±10%", "2σ", "1σ"], "range": ["transparent", "transparent", "#f08080", "#1e90ff"]},
                  "legend": {"title": null, "orient": "none", "legendX": 39, "legendY": -81, "direction": "horizontal", "columns": 4, "columnPadding": 57, "symbolOpacity": 1}},
                "stroke": {"field": "key", "type": "nominal", "scale": {"domain": ["median", "Δλ(t) = ±10%", "2σ", "1σ"], "range": ["black", "#707070", "transparent", "transparent"]}, "legend": {"title": null, "symbolOpacity": 1}},
                "shape": {"field": "key", "type": "nominal", "scale": {"domain": ["median", "Δλ(t) = ±10%", "2σ", "1σ"], "range": ["M-1,0H3", "M-1,0H3", "M-1,-0.76H3V0.76H-1Z", "M-1,-0.76H3V0.76H-1Z"]}, "legend": {"title": null, "symbolOpacity": 1}},
                "strokeDash": {"field": "key", "type": "nominal", "scale": {"domain": ["median", "Δλ(t) = ±10%", "2σ", "1σ"], "range": [[21, 31], [28, 7, 4, 7], [1, 0], [1, 0]]}, "legend": {"title": null, "symbolOpacity": 1}}
              }
            }
          ]
        },
        {
          "layer": [
            {"data": {"name": "ins"}, "transform": [{"filter": "datum.p == 1 && (datum.b == 'u2' || datum.b == 'l2')"}], "mark": {"type": "area", "color": "#f08080"},
             "encoding": {"x": {"field": "w", "type": "quantitative", "scale": {"domain": [4960, 5210], "range": [259, 335], "nice": false, "zero": false}, "axis": null},
                          "y": {"field": "v", "type": "quantitative", "stack": null, "scale": {"domain": [-0.6, 0.6], "range": [291, 214], "clamp": true, "nice": false, "zero": false}, "axis": {"orient": "left", "offset": -259, "values": [-0.5, 0, 0.5], "format": ".1f", "title": null}},
                          "y2": {"datum": 0}, "detail": {"field": "b"}}},
            {"data": {"name": "ins"}, "transform": [{"filter": "datum.p == 1 && (datum.b == 'u1' || datum.b == 'l1')"}], "mark": {"type": "area", "color": "#1e90ff", "stroke": "#1e90ff", "strokeWidth": 2.5},
             "encoding": {"x": {"field": "w", "type": "quantitative"}, "y": {"field": "v", "type": "quantitative", "stack": null}, "y2": {"datum": 0}, "detail": {"field": "b"}}},
            {"data": {"name": "ins"}, "transform": [{"filter": "datum.p == 1 && datum.b == 'm'"}], "mark": {"type": "line", "color": "black", "strokeWidth": 3.5, "strokeDash": [14, 30, 22, 30]},
             "encoding": {"x": {"field": "w", "type": "quantitative"}, "y": {"field": "v", "type": "quantitative"}}},
            {"data": {"values": [{}]}, "mark": {"type": "rect", "fillOpacity": 0, "stroke": "black", "strokeWidth": 2},
             "encoding": {"x": {"datum": 4960}, "x2": {"datum": 5210}, "y": {"datum": -0.6}, "y2": {"datum": 0.6}}}
          ]
        }
      ],
      "resolve": {"scale": {"x": "independent", "y": "independent"}}
    },
    {
      "width": 348, "height": 303,
      "layer": [
        {
          "layer": [
            {"data": {"name": "bands"}, "transform": [{"filter": "datum.p == 2 && (datum.b == 'u2' || datum.b == 'l2')"}], "mark": {"type": "area", "color": "#f08080", "stroke": "#f08080", "strokeWidth": 2.5, "clip": true},
             "encoding": {"x": {"field": "w", "type": "quantitative", "scale": {"domain": [1993, 11614], "nice": false, "zero": false}, "axis": {"values": [2500, 5000, 7500, 10000], "labels": false, "format": "d", "title": null}},
                          "y": {"field": "v", "type": "quantitative", "stack": null, "scale": {"domain": [-25, 25], "nice": false, "zero": false}, "axis": {"values": [-20, -10, 0, 10, 20], "labels": false, "title": null}},
                          "y2": {"datum": 0}, "detail": {"field": "b"}}},
            {"data": {"name": "bands"}, "transform": [{"filter": "datum.p == 2 && (datum.b == 'u1' || datum.b == 'l1')"}], "mark": {"type": "area", "color": "#1e90ff", "stroke": "#1e90ff", "strokeWidth": 2.5, "clip": true},
             "encoding": {"x": {"field": "w", "type": "quantitative"}, "y": {"field": "v", "type": "quantitative", "stack": null}, "y2": {"datum": 0}, "detail": {"field": "b"}}},
            {"data": {"name": "med"}, "transform": [{"filter": "datum.p == 2"}], "mark": {"type": "line", "color": "black", "strokeWidth": 3.5, "strokeDash": [21, 31], "clip": true},
             "encoding": {"x": {"field": "w", "type": "quantitative"}, "y": {"field": "v", "type": "quantitative"}}},
            {"data": {"values": [{"lim": 10}, {"lim": -10}]}, "mark": {"type": "rule", "color": "#707070", "strokeWidth": 3.3, "strokeDash": [28, 7, 4, 7]},
             "encoding": {"x": {"datum": 1993}, "x2": {"datum": 11614}, "y": {"field": "lim", "type": "quantitative"}}},
            {"data": {"values": [{}]}, "mark": {"type": "rect", "fillOpacity": 0, "stroke": "#808080", "strokeWidth": 1.5},
             "encoding": {"x": {"datum": 4960}, "x2": {"datum": 5210}, "y": {"datum": -0.6}, "y2": {"datum": 0.6}}},
            {"data": {"name": "links"}, "mark": {"type": "rule", "color": "#808080", "strokeWidth": 1.5},
             "encoding": {"x": {"field": "x0", "type": "quantitative"}, "x2": {"field": "x1"}, "y": {"field": "y0", "type": "quantitative"}, "y2": {"field": "y1"}}},
            {"data": {"values": [{}]}, "mark": {"type": "text", "text": "t", "fontStyle": "italic", "fontSize": 31, "align": "left", "baseline": "alphabetic", "color": "black"},
             "encoding": {"x": {"datum": 2759}, "y": {"datum": 17.95}}},
            {"data": {"name": "labs"}, "transform": [{"filter": "datum.p == 2"}], "mark": {"type": "text", "fontSize": 31, "align": "left", "baseline": "alphabetic", "dx": 19, "color": "black"},
             "encoding": {"x": {"datum": 2759}, "y": {"datum": 17.95}, "text": {"field": "s"}}}
          ]
        },
        {
          "layer": [
            {"data": {"name": "ins"}, "transform": [{"filter": "datum.p == 2 && (datum.b == 'u2' || datum.b == 'l2')"}], "mark": {"type": "area", "color": "#f08080"},
             "encoding": {"x": {"field": "w", "type": "quantitative", "scale": {"domain": [4960, 5210], "range": [259, 335], "nice": false, "zero": false}, "axis": null},
                          "y": {"field": "v", "type": "quantitative", "stack": null, "scale": {"domain": [-0.6, 0.6], "range": [291, 214], "clamp": true, "nice": false, "zero": false}, "axis": {"orient": "left", "offset": -259, "values": [-0.5, 0, 0.5], "format": ".1f", "title": null}},
                          "y2": {"datum": 0}, "detail": {"field": "b"}}},
            {"data": {"name": "ins"}, "transform": [{"filter": "datum.p == 2 && (datum.b == 'u1' || datum.b == 'l1')"}], "mark": {"type": "area", "color": "#1e90ff", "stroke": "#1e90ff", "strokeWidth": 2.5},
             "encoding": {"x": {"field": "w", "type": "quantitative"}, "y": {"field": "v", "type": "quantitative", "stack": null}, "y2": {"datum": 0}, "detail": {"field": "b"}}},
            {"data": {"name": "ins"}, "transform": [{"filter": "datum.p == 2 && datum.b == 'm'"}], "mark": {"type": "line", "color": "black", "strokeWidth": 3.5, "strokeDash": [14, 30, 22, 30]},
             "encoding": {"x": {"field": "w", "type": "quantitative"}, "y": {"field": "v", "type": "quantitative"}}},
            {"data": {"values": [{}]}, "mark": {"type": "rect", "fillOpacity": 0, "stroke": "black", "strokeWidth": 2},
             "encoding": {"x": {"datum": 4960}, "x2": {"datum": 5210}, "y": {"datum": -0.6}, "y2": {"datum": 0.6}}}
          ]
        }
      ],
      "resolve": {"scale": {"x": "independent", "y": "independent"}}
    },
    {
      "width": 348, "height": 303,
      "layer": [
        {
          "layer": [
            {"data": {"name": "bands"}, "transform": [{"filter": "datum.p == 3 && (datum.b == 'u2' || datum.b == 'l2')"}], "mark": {"type": "area", "color": "#f08080", "stroke": "#f08080", "strokeWidth": 2.5, "clip": true},
             "encoding": {"x": {"field": "w", "type": "quantitative", "scale": {"domain": [1993, 11614], "nice": false, "zero": false}, "axis": {"values": [2500, 5000, 7500, 10000], "labels": false, "format": "d", "title": null}},
                          "y": {"field": "v", "type": "quantitative", "stack": null, "scale": {"domain": [-25, 25], "nice": false, "zero": false}, "axis": {"values": [-20, -10, 0, 10, 20], "labels": false, "title": null}},
                          "y2": {"datum": 0}, "detail": {"field": "b"}}},
            {"data": {"name": "bands"}, "transform": [{"filter": "datum.p == 3 && (datum.b == 'u1' || datum.b == 'l1')"}], "mark": {"type": "area", "color": "#1e90ff", "stroke": "#1e90ff", "strokeWidth": 2.5, "clip": true},
             "encoding": {"x": {"field": "w", "type": "quantitative"}, "y": {"field": "v", "type": "quantitative", "stack": null}, "y2": {"datum": 0}, "detail": {"field": "b"}}},
            {"data": {"name": "med"}, "transform": [{"filter": "datum.p == 3"}], "mark": {"type": "line", "color": "black", "strokeWidth": 3.5, "strokeDash": [21, 31], "clip": true},
             "encoding": {"x": {"field": "w", "type": "quantitative"}, "y": {"field": "v", "type": "quantitative"}}},
            {"data": {"values": [{"lim": 10}, {"lim": -10}]}, "mark": {"type": "rule", "color": "#707070", "strokeWidth": 3.3, "strokeDash": [28, 7, 4, 7]},
             "encoding": {"x": {"datum": 1993}, "x2": {"datum": 11614}, "y": {"field": "lim", "type": "quantitative"}}},
            {"data": {"values": [{}]}, "mark": {"type": "rect", "fillOpacity": 0, "stroke": "#808080", "strokeWidth": 1.5},
             "encoding": {"x": {"datum": 4960}, "x2": {"datum": 5210}, "y": {"datum": -0.6}, "y2": {"datum": 0.6}}},
            {"data": {"name": "links"}, "mark": {"type": "rule", "color": "#808080", "strokeWidth": 1.5},
             "encoding": {"x": {"field": "x0", "type": "quantitative"}, "x2": {"field": "x1"}, "y": {"field": "y0", "type": "quantitative"}, "y2": {"field": "y1"}}},
            {"data": {"values": [{}]}, "mark": {"type": "text", "text": "t", "fontStyle": "italic", "fontSize": 31, "align": "left", "baseline": "alphabetic", "color": "black"},
             "encoding": {"x": {"datum": 2759}, "y": {"datum": 17.95}}},
            {"data": {"name": "labs"}, "transform": [{"filter": "datum.p == 3"}], "mark": {"type": "text", "fontSize": 31, "align": "left", "baseline": "alphabetic", "dx": 19, "color": "black"},
             "encoding": {"x": {"datum": 2759}, "y": {"datum": 17.95}, "text": {"field": "s"}}}
          ]
        },
        {
          "layer": [
            {"data": {"name": "ins"}, "transform": [{"filter": "datum.p == 3 && (datum.b == 'u2' || datum.b == 'l2')"}], "mark": {"type": "area", "color": "#f08080"},
             "encoding": {"x": {"field": "w", "type": "quantitative", "scale": {"domain": [4960, 5210], "range": [259, 335], "nice": false, "zero": false}, "axis": null},
                          "y": {"field": "v", "type": "quantitative", "stack": null, "scale": {"domain": [-0.6, 0.6], "range": [291, 214], "clamp": true, "nice": false, "zero": false}, "axis": {"orient": "left", "offset": -259, "values": [-0.5, 0, 0.5], "format": ".1f", "title": null}},
                          "y2": {"datum": 0}, "detail": {"field": "b"}}},
            {"data": {"name": "ins"}, "transform": [{"filter": "datum.p == 3 && (datum.b == 'u1' || datum.b == 'l1')"}], "mark": {"type": "area", "color": "#1e90ff", "stroke": "#1e90ff", "strokeWidth": 2.5},
             "encoding": {"x": {"field": "w", "type": "quantitative"}, "y": {"field": "v", "type": "quantitative", "stack": null}, "y2": {"datum": 0}, "detail": {"field": "b"}}},
            {"data": {"name": "ins"}, "transform": [{"filter": "datum.p == 3 && datum.b == 'm'"}], "mark": {"type": "line", "color": "black", "strokeWidth": 3.5, "strokeDash": [14, 30, 22, 30]},
             "encoding": {"x": {"field": "w", "type": "quantitative"}, "y": {"field": "v", "type": "quantitative"}}},
            {"data": {"values": [{}]}, "mark": {"type": "rect", "fillOpacity": 0, "stroke": "black", "strokeWidth": 2},
             "encoding": {"x": {"datum": 4960}, "x2": {"datum": 5210}, "y": {"datum": -0.6}, "y2": {"datum": 0.6}}}
          ]
        }
      ],
      "resolve": {"scale": {"x": "independent", "y": "independent"}}
    },
    {
      "width": 348, "height": 303,
      "layer": [
        {
          "layer": [
            {"data": {"name": "bands"}, "transform": [{"filter": "datum.p == 4 && (datum.b == 'u2' || datum.b == 'l2')"}], "mark": {"type": "area", "color": "#f08080", "stroke": "#f08080", "strokeWidth": 2.5, "clip": true},
             "encoding": {"x": {"field": "w", "type": "quantitative", "scale": {"domain": [1993, 11614], "nice": false, "zero": false}, "axis": {"values": [2500, 5000, 7500, 10000], "format": "d", "title": null}},
                          "y": {"field": "v", "type": "quantitative", "stack": null, "scale": {"domain": [-25, 25], "nice": false, "zero": false}, "axis": {"values": [-20, -10, 0, 10, 20], "format": "d", "title": "Δλ(t)  [%]"}},
                          "y2": {"datum": 0}, "detail": {"field": "b"}}},
            {"data": {"name": "bands"}, "transform": [{"filter": "datum.p == 4 && (datum.b == 'u1' || datum.b == 'l1')"}], "mark": {"type": "area", "color": "#1e90ff", "stroke": "#1e90ff", "strokeWidth": 2.5, "clip": true},
             "encoding": {"x": {"field": "w", "type": "quantitative"}, "y": {"field": "v", "type": "quantitative", "stack": null}, "y2": {"datum": 0}, "detail": {"field": "b"}}},
            {"data": {"name": "med"}, "transform": [{"filter": "datum.p == 4"}], "mark": {"type": "line", "color": "black", "strokeWidth": 3.5, "strokeDash": [21, 31], "clip": true},
             "encoding": {"x": {"field": "w", "type": "quantitative"}, "y": {"field": "v", "type": "quantitative"}}},
            {"data": {"values": [{"lim": 10}, {"lim": -10}]}, "mark": {"type": "rule", "color": "#707070", "strokeWidth": 3.3, "strokeDash": [28, 7, 4, 7]},
             "encoding": {"x": {"datum": 1993}, "x2": {"datum": 11614}, "y": {"field": "lim", "type": "quantitative"}}},
            {"data": {"values": [{}]}, "mark": {"type": "rect", "fillOpacity": 0, "stroke": "#808080", "strokeWidth": 1.5},
             "encoding": {"x": {"datum": 4960}, "x2": {"datum": 5210}, "y": {"datum": -0.6}, "y2": {"datum": 0.6}}},
            {"data": {"name": "links"}, "mark": {"type": "rule", "color": "#808080", "strokeWidth": 1.5},
             "encoding": {"x": {"field": "x0", "type": "quantitative"}, "x2": {"field": "x1"}, "y": {"field": "y0", "type": "quantitative"}, "y2": {"field": "y1"}}},
            {"data": {"values": [{}]}, "mark": {"type": "text", "text": "t", "fontStyle": "italic", "fontSize": 31, "align": "left", "baseline": "alphabetic", "color": "black"},
             "encoding": {"x": {"datum": 2759}, "y": {"datum": 17.95}}},
            {"data": {"name": "labs"}, "transform": [{"filter": "datum.p == 4"}], "mark": {"type": "text", "fontSize": 31, "align": "left", "baseline": "alphabetic", "dx": 19, "color": "black"},
             "encoding": {"x": {"datum": 2759}, "y": {"datum": 17.95}, "text": {"field": "s"}}}
          ]
        },
        {
          "layer": [
            {"data": {"name": "ins"}, "transform": [{"filter": "datum.p == 4 && (datum.b == 'u2' || datum.b == 'l2')"}], "mark": {"type": "area", "color": "#f08080"},
             "encoding": {"x": {"field": "w", "type": "quantitative", "scale": {"domain": [4960, 5210], "range": [259, 335], "nice": false, "zero": false}, "axis": null},
                          "y": {"field": "v", "type": "quantitative", "stack": null, "scale": {"domain": [-0.6, 0.6], "range": [291, 214], "clamp": true, "nice": false, "zero": false}, "axis": {"orient": "left", "offset": -259, "values": [-0.5, 0, 0.5], "format": ".1f", "title": null}},
                          "y2": {"datum": 0}, "detail": {"field": "b"}}},
            {"data": {"name": "ins"}, "transform": [{"filter": "datum.p == 4 && (datum.b == 'u1' || datum.b == 'l1')"}], "mark": {"type": "area", "color": "#1e90ff", "stroke": "#1e90ff", "strokeWidth": 2.5},
             "encoding": {"x": {"field": "w", "type": "quantitative"}, "y": {"field": "v", "type": "quantitative", "stack": null}, "y2": {"datum": 0}, "detail": {"field": "b"}}},
            {"data": {"name": "ins"}, "transform": [{"filter": "datum.p == 4 && datum.b == 'm'"}], "mark": {"type": "line", "color": "black", "strokeWidth": 3.5, "strokeDash": [14, 30, 22, 30]},
             "encoding": {"x": {"field": "w", "type": "quantitative"}, "y": {"field": "v", "type": "quantitative"}}},
            {"data": {"values": [{}]}, "mark": {"type": "rect", "fillOpacity": 0, "stroke": "black", "strokeWidth": 2},
             "encoding": {"x": {"datum": 4960}, "x2": {"datum": 5210}, "y": {"datum": -0.6}, "y2": {"datum": 0.6}}}
          ]
        }
      ],
      "resolve": {"scale": {"x": "independent", "y": "independent"}}
    },
    {
      "width": 348, "height": 303,
      "layer": [
        {
          "layer": [
            {"data": {"name": "bands"}, "transform": [{"filter": "datum.p == 5 && (datum.b == 'u2' || datum.b == 'l2')"}], "mark": {"type": "area", "color": "#f08080", "stroke": "#f08080", "strokeWidth": 2.5, "clip": true},
             "encoding": {"x": {"field": "w", "type": "quantitative", "scale": {"domain": [1993, 11614], "nice": false, "zero": false}, "axis": {"values": [2500, 5000, 7500, 10000], "format": "d", "title": null}},
                          "y": {"field": "v", "type": "quantitative", "stack": null, "scale": {"domain": [-25, 25], "nice": false, "zero": false}, "axis": {"values": [-20, -10, 0, 10, 20], "labels": false, "title": null}},
                          "y2": {"datum": 0}, "detail": {"field": "b"}}},
            {"data": {"name": "bands"}, "transform": [{"filter": "datum.p == 5 && (datum.b == 'u1' || datum.b == 'l1')"}], "mark": {"type": "area", "color": "#1e90ff", "stroke": "#1e90ff", "strokeWidth": 2.5, "clip": true},
             "encoding": {"x": {"field": "w", "type": "quantitative"}, "y": {"field": "v", "type": "quantitative", "stack": null}, "y2": {"datum": 0}, "detail": {"field": "b"}}},
            {"data": {"name": "med"}, "transform": [{"filter": "datum.p == 5"}], "mark": {"type": "line", "color": "black", "strokeWidth": 3.5, "strokeDash": [21, 31], "clip": true},
             "encoding": {"x": {"field": "w", "type": "quantitative"}, "y": {"field": "v", "type": "quantitative"}}},
            {"data": {"values": [{"lim": 10}, {"lim": -10}]}, "mark": {"type": "rule", "color": "#707070", "strokeWidth": 3.3, "strokeDash": [28, 7, 4, 7]},
             "encoding": {"x": {"datum": 1993}, "x2": {"datum": 11614}, "y": {"field": "lim", "type": "quantitative"}}},
            {"data": {"values": [{}]}, "mark": {"type": "rect", "fillOpacity": 0, "stroke": "#808080", "strokeWidth": 1.5},
             "encoding": {"x": {"datum": 4960}, "x2": {"datum": 5210}, "y": {"datum": -0.6}, "y2": {"datum": 0.6}}},
            {"data": {"name": "links"}, "mark": {"type": "rule", "color": "#808080", "strokeWidth": 1.5},
             "encoding": {"x": {"field": "x0", "type": "quantitative"}, "x2": {"field": "x1"}, "y": {"field": "y0", "type": "quantitative"}, "y2": {"field": "y1"}}},
            {"data": {"values": [{}]}, "mark": {"type": "text", "text": "t", "fontStyle": "italic", "fontSize": 31, "align": "left", "baseline": "alphabetic", "color": "black"},
             "encoding": {"x": {"datum": 2759}, "y": {"datum": 17.95}}},
            {"data": {"name": "labs"}, "transform": [{"filter": "datum.p == 5"}], "mark": {"type": "text", "fontSize": 31, "align": "left", "baseline": "alphabetic", "dx": 19, "color": "black"},
             "encoding": {"x": {"datum": 2759}, "y": {"datum": 17.95}, "text": {"field": "s"}}}
          ]
        },
        {
          "layer": [
            {"data": {"name": "ins"}, "transform": [{"filter": "datum.p == 5 && (datum.b == 'u2' || datum.b == 'l2')"}], "mark": {"type": "area", "color": "#f08080"},
             "encoding": {"x": {"field": "w", "type": "quantitative", "scale": {"domain": [4960, 5210], "range": [259, 335], "nice": false, "zero": false}, "axis": null},
                          "y": {"field": "v", "type": "quantitative", "stack": null, "scale": {"domain": [-0.6, 0.6], "range": [291, 214], "clamp": true, "nice": false, "zero": false}, "axis": {"orient": "left", "offset": -259, "values": [-0.5, 0, 0.5], "format": ".1f", "title": null}},
                          "y2": {"datum": 0}, "detail": {"field": "b"}}},
            {"data": {"name": "ins"}, "transform": [{"filter": "datum.p == 5 && (datum.b == 'u1' || datum.b == 'l1')"}], "mark": {"type": "area", "color": "#1e90ff", "stroke": "#1e90ff", "strokeWidth": 2.5},
             "encoding": {"x": {"field": "w", "type": "quantitative"}, "y": {"field": "v", "type": "quantitative", "stack": null}, "y2": {"datum": 0}, "detail": {"field": "b"}}},
            {"data": {"name": "ins"}, "transform": [{"filter": "datum.p == 5 && datum.b == 'm'"}], "mark": {"type": "line", "color": "black", "strokeWidth": 3.5, "strokeDash": [0, 30, 22, 30]},
             "encoding": {"x": {"field": "w", "type": "quantitative"}, "y": {"field": "v", "type": "quantitative"}}},
            {"data": {"values": [{}]}, "mark": {"type": "rect", "fillOpacity": 0, "stroke": "black", "strokeWidth": 2},
             "encoding": {"x": {"datum": 4960}, "x2": {"datum": 5210}, "y": {"datum": -0.6}, "y2": {"datum": 0.6}}}
          ]
        }
      ],
      "resolve": {"scale": {"x": "independent", "y": "independent"}}
    },
    {
      "width": 348, "height": 303,
      "layer": [
        {
          "layer": [
            {"data": {"name": "bands"}, "transform": [{"filter": "datum.p == 6 && (datum.b == 'u2' || datum.b == 'l2')"}], "mark": {"type": "area", "color": "#f08080", "stroke": "#f08080", "strokeWidth": 2.5, "clip": true},
             "encoding": {"x": {"field": "w", "type": "quantitative", "scale": {"domain": [1993, 11614], "nice": false, "zero": false}, "axis": {"values": [2500, 5000, 7500, 10000], "format": "d", "title": null}},
                          "y": {"field": "v", "type": "quantitative", "stack": null, "scale": {"domain": [-25, 25], "nice": false, "zero": false}, "axis": {"values": [-20, -10, 0, 10, 20], "labels": false, "title": null}},
                          "y2": {"datum": 0}, "detail": {"field": "b"}}},
            {"data": {"name": "bands"}, "transform": [{"filter": "datum.p == 6 && (datum.b == 'u1' || datum.b == 'l1')"}], "mark": {"type": "area", "color": "#1e90ff", "stroke": "#1e90ff", "strokeWidth": 2.5, "clip": true},
             "encoding": {"x": {"field": "w", "type": "quantitative"}, "y": {"field": "v", "type": "quantitative", "stack": null}, "y2": {"datum": 0}, "detail": {"field": "b"}}},
            {"data": {"name": "med"}, "transform": [{"filter": "datum.p == 6"}], "mark": {"type": "line", "color": "black", "strokeWidth": 3.5, "strokeDash": [21, 31], "clip": true},
             "encoding": {"x": {"field": "w", "type": "quantitative"}, "y": {"field": "v", "type": "quantitative"}}},
            {"data": {"values": [{"lim": 10}, {"lim": -10}]}, "mark": {"type": "rule", "color": "#707070", "strokeWidth": 3.3, "strokeDash": [28, 7, 4, 7]},
             "encoding": {"x": {"datum": 1993}, "x2": {"datum": 11614}, "y": {"field": "lim", "type": "quantitative"}}},
            {"data": {"values": [{}]}, "mark": {"type": "rect", "fillOpacity": 0, "stroke": "#808080", "strokeWidth": 1.5},
             "encoding": {"x": {"datum": 4960}, "x2": {"datum": 5210}, "y": {"datum": -0.6}, "y2": {"datum": 0.6}}},
            {"data": {"name": "links"}, "mark": {"type": "rule", "color": "#808080", "strokeWidth": 1.5},
             "encoding": {"x": {"field": "x0", "type": "quantitative"}, "x2": {"field": "x1"}, "y": {"field": "y0", "type": "quantitative"}, "y2": {"field": "y1"}}},
            {"data": {"values": [{}]}, "mark": {"type": "text", "text": "t", "fontStyle": "italic", "fontSize": 31, "align": "left", "baseline": "alphabetic", "color": "black"},
             "encoding": {"x": {"datum": 2759}, "y": {"datum": 17.95}}},
            {"data": {"name": "labs"}, "transform": [{"filter": "datum.p == 6"}], "mark": {"type": "text", "fontSize": 31, "align": "left", "baseline": "alphabetic", "dx": 19, "color": "black"},
             "encoding": {"x": {"datum": 2759}, "y": {"datum": 17.95}, "text": {"field": "s"}}}
          ]
        },
        {
          "layer": [
            {"data": {"name": "ins"}, "transform": [{"filter": "datum.p == 6 && (datum.b == 'u2' || datum.b == 'l2')"}], "mark": {"type": "area", "color": "#f08080"},
             "encoding": {"x": {"field": "w", "type": "quantitative", "scale": {"domain": [4960, 5210], "range": [259, 335], "nice": false, "zero": false}, "axis": null},
                          "y": {"field": "v", "type": "quantitative", "stack": null, "scale": {"domain": [-0.6, 0.6], "range": [291, 214], "clamp": true, "nice": false, "zero": false}, "axis": {"orient": "left", "offset": -259, "values": [-0.5, 0, 0.5], "format": ".1f", "title": null}},
                          "y2": {"datum": 0}, "detail": {"field": "b"}}},
            {"data": {"name": "ins"}, "transform": [{"filter": "datum.p == 6 && (datum.b == 'u1' || datum.b == 'l1')"}], "mark": {"type": "area", "color": "#1e90ff"},
             "encoding": {"x": {"field": "w", "type": "quantitative"}, "y": {"field": "v", "type": "quantitative", "stack": null}, "y2": {"datum": 0}, "detail": {"field": "b"}}},
            {"data": {"name": "ins"}, "transform": [{"filter": "datum.p == 6 && datum.b == 'm'"}], "mark": {"type": "line", "color": "black", "strokeWidth": 3.5, "strokeDash": [22, 30, 22, 30]},
             "encoding": {"x": {"field": "w", "type": "quantitative"}, "y": {"field": "v", "type": "quantitative"}}},
            {"data": {"values": [{}]}, "mark": {"type": "rect", "fillOpacity": 0, "stroke": "black", "strokeWidth": 2},
             "encoding": {"x": {"datum": 4960}, "x2": {"datum": 5210}, "y": {"datum": -0.6}, "y2": {"datum": 0.6}}}
          ]
        }
      ],
      "resolve": {"scale": {"x": "independent", "y": "independent"}}
    }
  ],
  "columns": 3,
  "spacing": {"row": 16, "column": 14},
  "bounds": "flush",
  "config": {
    "font": "DejaVu Sans",
    "view": {"stroke": "black", "strokeWidth": 2},
    "axis": {"domain": false, "grid": false, "tickColor": "black", "tickWidth": 2, "tickSize": 9, "labelFontSize": 25, "labelColor": "black", "labelPadding": 6, "titleFontSize": 31, "titleFontWeight": "normal", "titleColor": "black", "titlePadding": 17, "labelFont": "DejaVu Sans", "titleFont": "DejaVu Sans"},
    "legend": {"labelFont": "DejaVu Sans", "labelFontSize": 31, "labelColor": "black", "labelOffset": 57, "labelLimit": 400, "symbolSize": 1089, "symbolStrokeWidth": 3.5, "symbolOpacity": 1, "padding": 10, "strokeColor": "#cccccc", "fillColor": "white", "cornerRadius": 6}
  }
}
